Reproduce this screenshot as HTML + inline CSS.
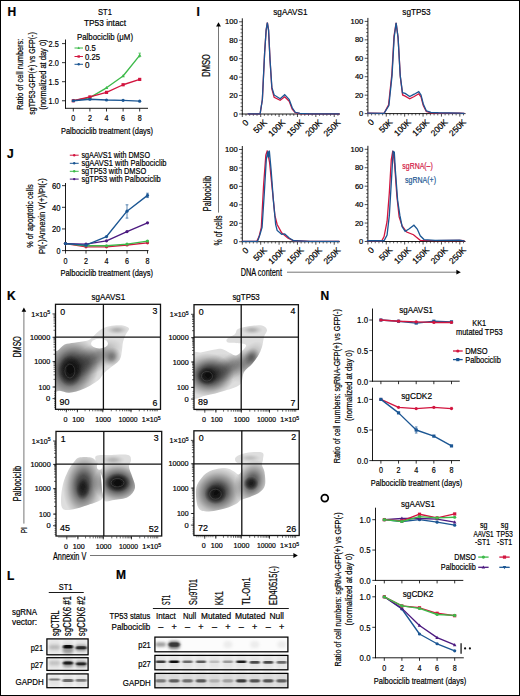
<!DOCTYPE html>
<html><head><meta charset="utf-8"><style>
html,body{margin:0;padding:0;background:#fff;width:520px;height:696px;overflow:hidden}
svg{display:block;font-family:"Liberation Sans", sans-serif}
text{stroke-width:0.2px}
</style></head><body>
<svg width="520" height="696" viewBox="0 0 520 696">
<rect x="0.5" y="0.5" width="519" height="695" fill="#fff" stroke="#000" stroke-width="1"/>
<text x="7.60" y="15.80" font-size="12.0" font-weight="bold" fill="#000" stroke="#000" stroke-width="0.3">H</text>
<text x="105.00" y="15.24" font-size="9.620000000000001" fill="#000" stroke="#000" text-anchor="middle" font-weight="normal" textLength="13.80" lengthAdjust="spacingAndGlyphs">ST1</text>
<text x="84.00" y="26.00" font-size="9.49" fill="#000" stroke="#000" font-weight="normal" textLength="42.00" lengthAdjust="spacingAndGlyphs">TP53 intact</text>
<text x="77.00" y="39.56" font-size="9.1" fill="#000" stroke="#000" font-weight="normal" textLength="56.00" lengthAdjust="spacingAndGlyphs">Palbociclib (μM)</text>
<line x1="65.50" y1="39.50" x2="65.50" y2="108.70" stroke="#000" stroke-width="0.9"/>
<line x1="65.10" y1="108.30" x2="148.00" y2="108.30" stroke="#000" stroke-width="0.9"/>
<line x1="62.00" y1="43.60" x2="65.50" y2="43.60" stroke="#000" stroke-width="0.8"/>
<text x="48.60" y="46.90" font-size="9.23" fill="#000" stroke="#000" font-weight="normal" textLength="10.20" lengthAdjust="spacingAndGlyphs">2.5</text>
<line x1="62.00" y1="62.65" x2="65.50" y2="62.65" stroke="#000" stroke-width="0.8"/>
<text x="48.60" y="65.95" font-size="9.23" fill="#000" stroke="#000" font-weight="normal" textLength="10.20" lengthAdjust="spacingAndGlyphs">2.0</text>
<line x1="62.00" y1="81.70" x2="65.50" y2="81.70" stroke="#000" stroke-width="0.8"/>
<text x="48.60" y="85.00" font-size="9.23" fill="#000" stroke="#000" font-weight="normal" textLength="10.20" lengthAdjust="spacingAndGlyphs">1.5</text>
<line x1="62.00" y1="100.75" x2="65.50" y2="100.75" stroke="#000" stroke-width="0.8"/>
<text x="48.60" y="104.05" font-size="9.23" fill="#000" stroke="#000" font-weight="normal" textLength="10.20" lengthAdjust="spacingAndGlyphs">1.0</text>
<line x1="73.30" y1="108.30" x2="73.30" y2="111.50" stroke="#000" stroke-width="0.8"/>
<text x="73.30" y="121.40" font-size="9.23" fill="#000" stroke="#000" text-anchor="middle" font-weight="normal" textLength="4.00" lengthAdjust="spacingAndGlyphs">0</text>
<line x1="89.90" y1="108.30" x2="89.90" y2="111.50" stroke="#000" stroke-width="0.8"/>
<text x="89.90" y="121.40" font-size="9.23" fill="#000" stroke="#000" text-anchor="middle" font-weight="normal" textLength="4.00" lengthAdjust="spacingAndGlyphs">2</text>
<line x1="106.50" y1="108.30" x2="106.50" y2="111.50" stroke="#000" stroke-width="0.8"/>
<text x="106.50" y="121.40" font-size="9.23" fill="#000" stroke="#000" text-anchor="middle" font-weight="normal" textLength="4.00" lengthAdjust="spacingAndGlyphs">4</text>
<line x1="123.10" y1="108.30" x2="123.10" y2="111.50" stroke="#000" stroke-width="0.8"/>
<text x="123.10" y="121.40" font-size="9.23" fill="#000" stroke="#000" text-anchor="middle" font-weight="normal" textLength="4.00" lengthAdjust="spacingAndGlyphs">6</text>
<line x1="139.70" y1="108.30" x2="139.70" y2="111.50" stroke="#000" stroke-width="0.8"/>
<text x="139.70" y="121.40" font-size="9.23" fill="#000" stroke="#000" text-anchor="middle" font-weight="normal" textLength="4.00" lengthAdjust="spacingAndGlyphs">8</text>
<text x="61.00" y="133.95" font-size="9.360000000000001" fill="#000" stroke="#000" font-weight="normal" textLength="92.00" lengthAdjust="spacingAndGlyphs">Palbociclib treatment (days)</text>
<text transform="translate(19.40,74.25) rotate(-90)" x="0" y="3.35" font-size="9.360000000000001" fill="#000" stroke="#000" text-anchor="middle" textLength="71.00" lengthAdjust="spacingAndGlyphs">Ratio of cell numbers:</text>
<text transform="translate(31.60,73.50) rotate(-90)" x="0" y="3.35" font-size="9.360000000000001" fill="#000" stroke="#000" text-anchor="middle" textLength="82.60" lengthAdjust="spacingAndGlyphs">sgTP53-GFP(+) vs GFP(-)</text>
<text transform="translate(42.20,74.60) rotate(-90)" x="0" y="3.35" font-size="9.360000000000001" fill="#000" stroke="#000" text-anchor="middle" textLength="70.40" lengthAdjust="spacingAndGlyphs">(normalized at day 0)</text>
<polyline points="73.30,100.75 89.90,97.70 106.50,87.80 123.10,75.98 139.70,55.41" fill="none" stroke="#3dba4a" stroke-width="1.35" stroke-linejoin="round"/>
<path d="M73.30,98.83 L75.06,102.03 L71.54,102.03Z" fill="#3dba4a"/>
<path d="M89.90,95.78 L91.66,98.98 L88.14,98.98Z" fill="#3dba4a"/>
<path d="M106.50,85.88 L108.26,89.08 L104.74,89.08Z" fill="#3dba4a"/>
<path d="M123.10,74.06 L124.86,77.27 L121.34,77.27Z" fill="#3dba4a"/>
<path d="M139.70,53.49 L141.46,56.69 L137.94,56.69Z" fill="#3dba4a"/>
<polyline points="73.30,100.75 89.90,96.94 106.50,92.37 123.10,84.75 139.70,79.41" fill="none" stroke="#d2153f" stroke-width="1.35" stroke-linejoin="round"/>
<rect x="71.70" y="99.15" width="3.20" height="3.20" fill="#d2153f"/>
<rect x="88.30" y="95.34" width="3.20" height="3.20" fill="#d2153f"/>
<rect x="104.90" y="90.77" width="3.20" height="3.20" fill="#d2153f"/>
<rect x="121.50" y="83.15" width="3.20" height="3.20" fill="#d2153f"/>
<rect x="138.10" y="77.81" width="3.20" height="3.20" fill="#d2153f"/>
<polyline points="73.30,100.75 89.90,99.23 106.50,99.99 123.10,100.37 139.70,101.13" fill="none" stroke="#1b5693" stroke-width="1.35" stroke-linejoin="round"/>
<circle cx="73.30" cy="100.75" r="1.60" fill="#1b5693"/>
<circle cx="89.90" cy="99.23" r="1.60" fill="#1b5693"/>
<circle cx="106.50" cy="99.99" r="1.60" fill="#1b5693"/>
<circle cx="123.10" cy="100.37" r="1.60" fill="#1b5693"/>
<circle cx="139.70" cy="101.13" r="1.60" fill="#1b5693"/>
<line x1="139.70" y1="53.12" x2="139.70" y2="57.70" stroke="#3dba4a" stroke-width="0.7"/>
<line x1="138.40" y1="53.12" x2="141.00" y2="53.12" stroke="#3dba4a" stroke-width="0.7"/>
<line x1="74.50" y1="48.00" x2="83.00" y2="48.00" stroke="#3dba4a" stroke-width="1.0"/>
<path d="M78.70,46.56 L80.02,48.96 L77.38,48.96Z" fill="#3dba4a"/>
<text x="85.00" y="51.30" font-size="9.23" fill="#000" stroke="#000" font-weight="normal" textLength="10.75" lengthAdjust="spacingAndGlyphs">0.5</text>
<line x1="74.50" y1="56.50" x2="83.00" y2="56.50" stroke="#d2153f" stroke-width="1.0"/>
<rect x="77.50" y="55.30" width="2.40" height="2.40" fill="#d2153f"/>
<text x="85.00" y="59.80" font-size="9.23" fill="#000" stroke="#000" font-weight="normal" textLength="15.00" lengthAdjust="spacingAndGlyphs">0.25</text>
<line x1="74.50" y1="64.30" x2="83.00" y2="64.30" stroke="#1b5693" stroke-width="1.0"/>
<circle cx="78.70" cy="64.30" r="1.20" fill="#1b5693"/>
<text x="85.00" y="67.60" font-size="9.23" fill="#000" stroke="#000" font-weight="normal" textLength="4.50" lengthAdjust="spacingAndGlyphs">0</text>
<text x="7.00" y="157.60" font-size="12.0" font-weight="bold" fill="#000" stroke="#000" stroke-width="0.3">J</text>
<line x1="65.50" y1="183.00" x2="65.50" y2="251.00" stroke="#000" stroke-width="0.9"/>
<line x1="65.10" y1="250.60" x2="148.50" y2="250.60" stroke="#000" stroke-width="0.9"/>
<line x1="62.00" y1="185.65" x2="65.50" y2="185.65" stroke="#000" stroke-width="0.8"/>
<text x="60.50" y="188.95" font-size="9.23" fill="#000" stroke="#000" text-anchor="end" textLength="8.60" lengthAdjust="spacingAndGlyphs">60</text>
<line x1="62.00" y1="207.30" x2="65.50" y2="207.30" stroke="#000" stroke-width="0.8"/>
<text x="60.50" y="210.60" font-size="9.23" fill="#000" stroke="#000" text-anchor="end" textLength="8.60" lengthAdjust="spacingAndGlyphs">40</text>
<line x1="62.00" y1="228.95" x2="65.50" y2="228.95" stroke="#000" stroke-width="0.8"/>
<text x="60.50" y="232.25" font-size="9.23" fill="#000" stroke="#000" text-anchor="end" textLength="8.60" lengthAdjust="spacingAndGlyphs">20</text>
<line x1="62.00" y1="250.60" x2="65.50" y2="250.60" stroke="#000" stroke-width="0.8"/>
<text x="60.50" y="253.90" font-size="9.23" fill="#000" stroke="#000" text-anchor="end" textLength="4.00" lengthAdjust="spacingAndGlyphs">0</text>
<line x1="65.50" y1="250.60" x2="65.50" y2="253.60" stroke="#000" stroke-width="0.8"/>
<text x="65.50" y="263.70" font-size="9.23" fill="#000" stroke="#000" text-anchor="middle" font-weight="normal" textLength="4.00" lengthAdjust="spacingAndGlyphs">0</text>
<line x1="86.00" y1="250.60" x2="86.00" y2="253.60" stroke="#000" stroke-width="0.8"/>
<text x="86.00" y="263.70" font-size="9.23" fill="#000" stroke="#000" text-anchor="middle" font-weight="normal" textLength="4.00" lengthAdjust="spacingAndGlyphs">2</text>
<line x1="106.50" y1="250.60" x2="106.50" y2="253.60" stroke="#000" stroke-width="0.8"/>
<text x="106.50" y="263.70" font-size="9.23" fill="#000" stroke="#000" text-anchor="middle" font-weight="normal" textLength="4.00" lengthAdjust="spacingAndGlyphs">4</text>
<line x1="127.00" y1="250.60" x2="127.00" y2="253.60" stroke="#000" stroke-width="0.8"/>
<text x="127.00" y="263.70" font-size="9.23" fill="#000" stroke="#000" text-anchor="middle" font-weight="normal" textLength="4.00" lengthAdjust="spacingAndGlyphs">6</text>
<line x1="147.50" y1="250.60" x2="147.50" y2="253.60" stroke="#000" stroke-width="0.8"/>
<text x="147.50" y="263.70" font-size="9.23" fill="#000" stroke="#000" text-anchor="middle" font-weight="normal" textLength="4.00" lengthAdjust="spacingAndGlyphs">8</text>
<text x="60.40" y="275.85" font-size="9.360000000000001" fill="#000" stroke="#000" font-weight="normal" textLength="92.60" lengthAdjust="spacingAndGlyphs">Palbociclib treatment (days)</text>
<text transform="translate(29.60,216.10) rotate(-90)" x="0" y="3.35" font-size="9.360000000000001" fill="#000" stroke="#000" text-anchor="middle" textLength="63.50" lengthAdjust="spacingAndGlyphs">% of apoptotic cells</text>
<text transform="translate(41.30,216.10) rotate(-90)" x="0" y="3.35" font-size="9.360000000000001" fill="#000" stroke="#000" text-anchor="middle" textLength="76.00" lengthAdjust="spacingAndGlyphs">PI(-)Annexin V(+)/PI(-)</text>
<polyline points="65.50,243.56 86.00,246.81 106.50,246.81 127.00,244.97 147.50,242.81" fill="none" stroke="#d2153f" stroke-width="1.35" stroke-linejoin="round"/>
<circle cx="65.50" cy="243.56" r="1.60" fill="#d2153f"/>
<circle cx="86.00" cy="246.81" r="1.60" fill="#d2153f"/>
<circle cx="106.50" cy="246.81" r="1.60" fill="#d2153f"/>
<circle cx="127.00" cy="244.97" r="1.60" fill="#d2153f"/>
<circle cx="147.50" cy="242.81" r="1.60" fill="#d2153f"/>
<polyline points="65.50,243.56 86.00,245.73 106.50,245.73 127.00,244.10 147.50,241.07" fill="none" stroke="#3dba4a" stroke-width="1.35" stroke-linejoin="round"/>
<circle cx="65.50" cy="243.56" r="1.60" fill="#3dba4a"/>
<circle cx="86.00" cy="245.73" r="1.60" fill="#3dba4a"/>
<circle cx="106.50" cy="245.73" r="1.60" fill="#3dba4a"/>
<circle cx="127.00" cy="244.10" r="1.60" fill="#3dba4a"/>
<circle cx="147.50" cy="241.07" r="1.60" fill="#3dba4a"/>
<polyline points="65.50,243.56 86.00,244.10 106.50,240.86 127.00,231.55 147.50,222.78" fill="none" stroke="#4c1a80" stroke-width="1.35" stroke-linejoin="round"/>
<circle cx="65.50" cy="243.56" r="1.60" fill="#4c1a80"/>
<circle cx="86.00" cy="244.10" r="1.60" fill="#4c1a80"/>
<circle cx="106.50" cy="240.86" r="1.60" fill="#4c1a80"/>
<circle cx="127.00" cy="231.55" r="1.60" fill="#4c1a80"/>
<circle cx="147.50" cy="222.78" r="1.60" fill="#4c1a80"/>
<polyline points="65.50,243.56 86.00,245.19 106.50,236.53 127.00,211.20 147.50,195.39" fill="none" stroke="#1b5693" stroke-width="1.35" stroke-linejoin="round"/>
<circle cx="65.50" cy="243.56" r="1.60" fill="#1b5693"/>
<circle cx="86.00" cy="245.19" r="1.60" fill="#1b5693"/>
<circle cx="106.50" cy="236.53" r="1.60" fill="#1b5693"/>
<circle cx="127.00" cy="211.20" r="1.60" fill="#1b5693"/>
<circle cx="147.50" cy="195.39" r="1.60" fill="#1b5693"/>
<line x1="127.00" y1="218.12" x2="127.00" y2="204.81" stroke="#1b5693" stroke-width="0.7"/>
<line x1="125.60" y1="218.12" x2="128.40" y2="218.12" stroke="#1b5693" stroke-width="0.7"/>
<line x1="125.60" y1="204.81" x2="128.40" y2="204.81" stroke="#1b5693" stroke-width="0.7"/>
<line x1="147.50" y1="197.56" x2="147.50" y2="193.23" stroke="#1b5693" stroke-width="0.7"/>
<line x1="146.10" y1="197.56" x2="148.90" y2="197.56" stroke="#1b5693" stroke-width="0.7"/>
<line x1="146.10" y1="193.23" x2="148.90" y2="193.23" stroke="#1b5693" stroke-width="0.7"/>
<line x1="69.80" y1="155.20" x2="78.70" y2="155.20" stroke="#d2153f" stroke-width="1.0"/>
<circle cx="74.20" cy="155.20" r="1.20" fill="#d2153f"/>
<text x="81.40" y="158.29" font-size="9.1" fill="#000" stroke="#000" font-weight="normal" textLength="68.60" lengthAdjust="spacingAndGlyphs">sgAAVS1 with DMSO</text>
<line x1="69.80" y1="163.30" x2="78.70" y2="163.30" stroke="#1b5693" stroke-width="1.0"/>
<circle cx="74.20" cy="163.30" r="1.20" fill="#1b5693"/>
<text x="81.40" y="166.39" font-size="9.1" fill="#000" stroke="#000" font-weight="normal" textLength="85.10" lengthAdjust="spacingAndGlyphs">sgAAVS1 with Palbociclib</text>
<line x1="69.80" y1="171.30" x2="78.70" y2="171.30" stroke="#3dba4a" stroke-width="1.0"/>
<circle cx="74.20" cy="171.30" r="1.20" fill="#3dba4a"/>
<text x="81.40" y="174.39" font-size="9.1" fill="#000" stroke="#000" font-weight="normal" textLength="64.80" lengthAdjust="spacingAndGlyphs">sgTP53 with DMSO</text>
<line x1="69.80" y1="179.10" x2="78.70" y2="179.10" stroke="#4c1a80" stroke-width="1.0"/>
<circle cx="74.20" cy="179.10" r="1.20" fill="#4c1a80"/>
<text x="81.40" y="182.19" font-size="9.1" fill="#000" stroke="#000" font-weight="normal" textLength="79.40" lengthAdjust="spacingAndGlyphs">sgTP53 with Palbociclib</text>
<text x="196.50" y="15.90" font-size="12.0" font-weight="bold" fill="#000" stroke="#000" stroke-width="0.3">I</text>
<text x="290.40" y="15.04" font-size="9.879999999999999" fill="#000" stroke="#000" text-anchor="middle" font-weight="normal" textLength="34.20" lengthAdjust="spacingAndGlyphs">sgAAVS1</text>
<text x="416.50" y="14.84" font-size="9.879999999999999" fill="#000" stroke="#000" text-anchor="middle" font-weight="normal" textLength="28.40" lengthAdjust="spacingAndGlyphs">sgTP53</text>
<line x1="242.30" y1="18.30" x2="242.30" y2="114.40" stroke="#000" stroke-width="0.9"/>
<line x1="239.10" y1="114.00" x2="242.30" y2="114.00" stroke="#000" stroke-width="0.7"/>
<line x1="240.50" y1="110.31" x2="242.30" y2="110.31" stroke="#000" stroke-width="0.6"/>
<line x1="240.50" y1="106.62" x2="242.30" y2="106.62" stroke="#000" stroke-width="0.6"/>
<line x1="240.50" y1="102.94" x2="242.30" y2="102.94" stroke="#000" stroke-width="0.6"/>
<line x1="240.50" y1="99.25" x2="242.30" y2="99.25" stroke="#000" stroke-width="0.6"/>
<line x1="239.10" y1="95.56" x2="242.30" y2="95.56" stroke="#000" stroke-width="0.7"/>
<line x1="240.50" y1="91.87" x2="242.30" y2="91.87" stroke="#000" stroke-width="0.6"/>
<line x1="240.50" y1="88.18" x2="242.30" y2="88.18" stroke="#000" stroke-width="0.6"/>
<line x1="240.50" y1="84.50" x2="242.30" y2="84.50" stroke="#000" stroke-width="0.6"/>
<line x1="240.50" y1="80.81" x2="242.30" y2="80.81" stroke="#000" stroke-width="0.6"/>
<line x1="239.10" y1="77.12" x2="242.30" y2="77.12" stroke="#000" stroke-width="0.7"/>
<line x1="240.50" y1="73.43" x2="242.30" y2="73.43" stroke="#000" stroke-width="0.6"/>
<line x1="240.50" y1="69.74" x2="242.30" y2="69.74" stroke="#000" stroke-width="0.6"/>
<line x1="240.50" y1="66.06" x2="242.30" y2="66.06" stroke="#000" stroke-width="0.6"/>
<line x1="240.50" y1="62.37" x2="242.30" y2="62.37" stroke="#000" stroke-width="0.6"/>
<line x1="239.10" y1="58.68" x2="242.30" y2="58.68" stroke="#000" stroke-width="0.7"/>
<line x1="240.50" y1="54.99" x2="242.30" y2="54.99" stroke="#000" stroke-width="0.6"/>
<line x1="240.50" y1="51.30" x2="242.30" y2="51.30" stroke="#000" stroke-width="0.6"/>
<line x1="240.50" y1="47.62" x2="242.30" y2="47.62" stroke="#000" stroke-width="0.6"/>
<line x1="240.50" y1="43.93" x2="242.30" y2="43.93" stroke="#000" stroke-width="0.6"/>
<line x1="239.10" y1="40.24" x2="242.30" y2="40.24" stroke="#000" stroke-width="0.7"/>
<line x1="240.50" y1="36.55" x2="242.30" y2="36.55" stroke="#000" stroke-width="0.6"/>
<line x1="240.50" y1="32.86" x2="242.30" y2="32.86" stroke="#000" stroke-width="0.6"/>
<line x1="240.50" y1="29.18" x2="242.30" y2="29.18" stroke="#000" stroke-width="0.6"/>
<line x1="240.50" y1="25.49" x2="242.30" y2="25.49" stroke="#000" stroke-width="0.6"/>
<line x1="239.10" y1="21.80" x2="242.30" y2="21.80" stroke="#000" stroke-width="0.7"/>
<text x="237.70" y="116.65" font-size="7.41" fill="#000" stroke="#000" text-anchor="end" textLength="4.20" lengthAdjust="spacingAndGlyphs">0</text>
<text x="237.70" y="98.21" font-size="7.41" fill="#000" stroke="#000" text-anchor="end" textLength="8.40" lengthAdjust="spacingAndGlyphs">20</text>
<text x="237.70" y="79.77" font-size="7.41" fill="#000" stroke="#000" text-anchor="end" textLength="8.40" lengthAdjust="spacingAndGlyphs">40</text>
<text x="237.70" y="61.33" font-size="7.41" fill="#000" stroke="#000" text-anchor="end" textLength="8.40" lengthAdjust="spacingAndGlyphs">60</text>
<text x="237.70" y="42.89" font-size="7.41" fill="#000" stroke="#000" text-anchor="end" textLength="8.40" lengthAdjust="spacingAndGlyphs">80</text>
<text x="237.70" y="24.45" font-size="7.41" fill="#000" stroke="#000" text-anchor="end" textLength="12.70" lengthAdjust="spacingAndGlyphs">100</text>
<line x1="241.90" y1="114.00" x2="339.90" y2="114.00" stroke="#000" stroke-width="0.9"/>
<line x1="242.30" y1="114.00" x2="242.30" y2="117.00" stroke="#000" stroke-width="0.7"/>
<line x1="245.98" y1="114.00" x2="245.98" y2="115.80" stroke="#000" stroke-width="0.6"/>
<line x1="249.65" y1="114.00" x2="249.65" y2="115.80" stroke="#000" stroke-width="0.6"/>
<line x1="253.33" y1="114.00" x2="253.33" y2="115.80" stroke="#000" stroke-width="0.6"/>
<line x1="257.01" y1="114.00" x2="257.01" y2="115.80" stroke="#000" stroke-width="0.6"/>
<line x1="260.69" y1="114.00" x2="260.69" y2="117.00" stroke="#000" stroke-width="0.7"/>
<line x1="264.36" y1="114.00" x2="264.36" y2="115.80" stroke="#000" stroke-width="0.6"/>
<line x1="268.04" y1="114.00" x2="268.04" y2="115.80" stroke="#000" stroke-width="0.6"/>
<line x1="271.72" y1="114.00" x2="271.72" y2="115.80" stroke="#000" stroke-width="0.6"/>
<line x1="275.39" y1="114.00" x2="275.39" y2="115.80" stroke="#000" stroke-width="0.6"/>
<line x1="279.07" y1="114.00" x2="279.07" y2="117.00" stroke="#000" stroke-width="0.7"/>
<line x1="282.75" y1="114.00" x2="282.75" y2="115.80" stroke="#000" stroke-width="0.6"/>
<line x1="286.42" y1="114.00" x2="286.42" y2="115.80" stroke="#000" stroke-width="0.6"/>
<line x1="290.10" y1="114.00" x2="290.10" y2="115.80" stroke="#000" stroke-width="0.6"/>
<line x1="293.78" y1="114.00" x2="293.78" y2="115.80" stroke="#000" stroke-width="0.6"/>
<line x1="297.46" y1="114.00" x2="297.46" y2="117.00" stroke="#000" stroke-width="0.7"/>
<line x1="301.13" y1="114.00" x2="301.13" y2="115.80" stroke="#000" stroke-width="0.6"/>
<line x1="304.81" y1="114.00" x2="304.81" y2="115.80" stroke="#000" stroke-width="0.6"/>
<line x1="308.49" y1="114.00" x2="308.49" y2="115.80" stroke="#000" stroke-width="0.6"/>
<line x1="312.16" y1="114.00" x2="312.16" y2="115.80" stroke="#000" stroke-width="0.6"/>
<line x1="315.84" y1="114.00" x2="315.84" y2="117.00" stroke="#000" stroke-width="0.7"/>
<line x1="319.52" y1="114.00" x2="319.52" y2="115.80" stroke="#000" stroke-width="0.6"/>
<line x1="323.19" y1="114.00" x2="323.19" y2="115.80" stroke="#000" stroke-width="0.6"/>
<line x1="326.87" y1="114.00" x2="326.87" y2="115.80" stroke="#000" stroke-width="0.6"/>
<line x1="330.55" y1="114.00" x2="330.55" y2="115.80" stroke="#000" stroke-width="0.6"/>
<line x1="334.23" y1="114.00" x2="334.23" y2="117.00" stroke="#000" stroke-width="0.7"/>
<line x1="337.90" y1="114.00" x2="337.90" y2="115.80" stroke="#000" stroke-width="0.6"/>
<text transform="translate(244.50,118.60) rotate(-45)" x="0" y="0" font-size="8.45" text-anchor="end" dominant-baseline="hanging" stroke="#000">0</text>
<text transform="translate(262.88,118.60) rotate(-45)" x="0" y="0" font-size="8.45" text-anchor="end" dominant-baseline="hanging" stroke="#000">50K</text>
<text transform="translate(281.27,118.60) rotate(-45)" x="0" y="0" font-size="8.45" text-anchor="end" dominant-baseline="hanging" stroke="#000">100K</text>
<text transform="translate(299.66,118.60) rotate(-45)" x="0" y="0" font-size="8.45" text-anchor="end" dominant-baseline="hanging" stroke="#000">150K</text>
<text transform="translate(318.04,118.60) rotate(-45)" x="0" y="0" font-size="8.45" text-anchor="end" dominant-baseline="hanging" stroke="#000">200K</text>
<text transform="translate(336.43,118.60) rotate(-45)" x="0" y="0" font-size="8.45" text-anchor="end" dominant-baseline="hanging" stroke="#000">250K</text>
<line x1="367.90" y1="17.90" x2="367.90" y2="114.00" stroke="#000" stroke-width="0.9"/>
<line x1="364.70" y1="113.60" x2="367.90" y2="113.60" stroke="#000" stroke-width="0.7"/>
<line x1="366.10" y1="109.91" x2="367.90" y2="109.91" stroke="#000" stroke-width="0.6"/>
<line x1="366.10" y1="106.22" x2="367.90" y2="106.22" stroke="#000" stroke-width="0.6"/>
<line x1="366.10" y1="102.54" x2="367.90" y2="102.54" stroke="#000" stroke-width="0.6"/>
<line x1="366.10" y1="98.85" x2="367.90" y2="98.85" stroke="#000" stroke-width="0.6"/>
<line x1="364.70" y1="95.16" x2="367.90" y2="95.16" stroke="#000" stroke-width="0.7"/>
<line x1="366.10" y1="91.47" x2="367.90" y2="91.47" stroke="#000" stroke-width="0.6"/>
<line x1="366.10" y1="87.78" x2="367.90" y2="87.78" stroke="#000" stroke-width="0.6"/>
<line x1="366.10" y1="84.10" x2="367.90" y2="84.10" stroke="#000" stroke-width="0.6"/>
<line x1="366.10" y1="80.41" x2="367.90" y2="80.41" stroke="#000" stroke-width="0.6"/>
<line x1="364.70" y1="76.72" x2="367.90" y2="76.72" stroke="#000" stroke-width="0.7"/>
<line x1="366.10" y1="73.03" x2="367.90" y2="73.03" stroke="#000" stroke-width="0.6"/>
<line x1="366.10" y1="69.34" x2="367.90" y2="69.34" stroke="#000" stroke-width="0.6"/>
<line x1="366.10" y1="65.66" x2="367.90" y2="65.66" stroke="#000" stroke-width="0.6"/>
<line x1="366.10" y1="61.97" x2="367.90" y2="61.97" stroke="#000" stroke-width="0.6"/>
<line x1="364.70" y1="58.28" x2="367.90" y2="58.28" stroke="#000" stroke-width="0.7"/>
<line x1="366.10" y1="54.59" x2="367.90" y2="54.59" stroke="#000" stroke-width="0.6"/>
<line x1="366.10" y1="50.90" x2="367.90" y2="50.90" stroke="#000" stroke-width="0.6"/>
<line x1="366.10" y1="47.22" x2="367.90" y2="47.22" stroke="#000" stroke-width="0.6"/>
<line x1="366.10" y1="43.53" x2="367.90" y2="43.53" stroke="#000" stroke-width="0.6"/>
<line x1="364.70" y1="39.84" x2="367.90" y2="39.84" stroke="#000" stroke-width="0.7"/>
<line x1="366.10" y1="36.15" x2="367.90" y2="36.15" stroke="#000" stroke-width="0.6"/>
<line x1="366.10" y1="32.46" x2="367.90" y2="32.46" stroke="#000" stroke-width="0.6"/>
<line x1="366.10" y1="28.78" x2="367.90" y2="28.78" stroke="#000" stroke-width="0.6"/>
<line x1="366.10" y1="25.09" x2="367.90" y2="25.09" stroke="#000" stroke-width="0.6"/>
<line x1="364.70" y1="21.40" x2="367.90" y2="21.40" stroke="#000" stroke-width="0.7"/>
<text x="363.30" y="116.25" font-size="7.41" fill="#000" stroke="#000" text-anchor="end" textLength="4.20" lengthAdjust="spacingAndGlyphs">0</text>
<text x="363.30" y="97.81" font-size="7.41" fill="#000" stroke="#000" text-anchor="end" textLength="8.40" lengthAdjust="spacingAndGlyphs">20</text>
<text x="363.30" y="79.37" font-size="7.41" fill="#000" stroke="#000" text-anchor="end" textLength="8.40" lengthAdjust="spacingAndGlyphs">40</text>
<text x="363.30" y="60.93" font-size="7.41" fill="#000" stroke="#000" text-anchor="end" textLength="8.40" lengthAdjust="spacingAndGlyphs">60</text>
<text x="363.30" y="42.49" font-size="7.41" fill="#000" stroke="#000" text-anchor="end" textLength="8.40" lengthAdjust="spacingAndGlyphs">80</text>
<text x="363.30" y="24.05" font-size="7.41" fill="#000" stroke="#000" text-anchor="end" textLength="12.70" lengthAdjust="spacingAndGlyphs">100</text>
<line x1="367.50" y1="113.60" x2="465.50" y2="113.60" stroke="#000" stroke-width="0.9"/>
<line x1="367.90" y1="113.60" x2="367.90" y2="116.60" stroke="#000" stroke-width="0.7"/>
<line x1="371.58" y1="113.60" x2="371.58" y2="115.40" stroke="#000" stroke-width="0.6"/>
<line x1="375.25" y1="113.60" x2="375.25" y2="115.40" stroke="#000" stroke-width="0.6"/>
<line x1="378.93" y1="113.60" x2="378.93" y2="115.40" stroke="#000" stroke-width="0.6"/>
<line x1="382.61" y1="113.60" x2="382.61" y2="115.40" stroke="#000" stroke-width="0.6"/>
<line x1="386.28" y1="113.60" x2="386.28" y2="116.60" stroke="#000" stroke-width="0.7"/>
<line x1="389.96" y1="113.60" x2="389.96" y2="115.40" stroke="#000" stroke-width="0.6"/>
<line x1="393.64" y1="113.60" x2="393.64" y2="115.40" stroke="#000" stroke-width="0.6"/>
<line x1="397.32" y1="113.60" x2="397.32" y2="115.40" stroke="#000" stroke-width="0.6"/>
<line x1="400.99" y1="113.60" x2="400.99" y2="115.40" stroke="#000" stroke-width="0.6"/>
<line x1="404.67" y1="113.60" x2="404.67" y2="116.60" stroke="#000" stroke-width="0.7"/>
<line x1="408.35" y1="113.60" x2="408.35" y2="115.40" stroke="#000" stroke-width="0.6"/>
<line x1="412.02" y1="113.60" x2="412.02" y2="115.40" stroke="#000" stroke-width="0.6"/>
<line x1="415.70" y1="113.60" x2="415.70" y2="115.40" stroke="#000" stroke-width="0.6"/>
<line x1="419.38" y1="113.60" x2="419.38" y2="115.40" stroke="#000" stroke-width="0.6"/>
<line x1="423.05" y1="113.60" x2="423.05" y2="116.60" stroke="#000" stroke-width="0.7"/>
<line x1="426.73" y1="113.60" x2="426.73" y2="115.40" stroke="#000" stroke-width="0.6"/>
<line x1="430.41" y1="113.60" x2="430.41" y2="115.40" stroke="#000" stroke-width="0.6"/>
<line x1="434.09" y1="113.60" x2="434.09" y2="115.40" stroke="#000" stroke-width="0.6"/>
<line x1="437.76" y1="113.60" x2="437.76" y2="115.40" stroke="#000" stroke-width="0.6"/>
<line x1="441.44" y1="113.60" x2="441.44" y2="116.60" stroke="#000" stroke-width="0.7"/>
<line x1="445.12" y1="113.60" x2="445.12" y2="115.40" stroke="#000" stroke-width="0.6"/>
<line x1="448.79" y1="113.60" x2="448.79" y2="115.40" stroke="#000" stroke-width="0.6"/>
<line x1="452.47" y1="113.60" x2="452.47" y2="115.40" stroke="#000" stroke-width="0.6"/>
<line x1="456.15" y1="113.60" x2="456.15" y2="115.40" stroke="#000" stroke-width="0.6"/>
<line x1="459.82" y1="113.60" x2="459.82" y2="116.60" stroke="#000" stroke-width="0.7"/>
<line x1="463.50" y1="113.60" x2="463.50" y2="115.40" stroke="#000" stroke-width="0.6"/>
<text transform="translate(370.10,118.20) rotate(-45)" x="0" y="0" font-size="8.45" text-anchor="end" dominant-baseline="hanging" stroke="#000">0</text>
<text transform="translate(388.48,118.20) rotate(-45)" x="0" y="0" font-size="8.45" text-anchor="end" dominant-baseline="hanging" stroke="#000">50K</text>
<text transform="translate(406.87,118.20) rotate(-45)" x="0" y="0" font-size="8.45" text-anchor="end" dominant-baseline="hanging" stroke="#000">100K</text>
<text transform="translate(425.25,118.20) rotate(-45)" x="0" y="0" font-size="8.45" text-anchor="end" dominant-baseline="hanging" stroke="#000">150K</text>
<text transform="translate(443.64,118.20) rotate(-45)" x="0" y="0" font-size="8.45" text-anchor="end" dominant-baseline="hanging" stroke="#000">200K</text>
<text transform="translate(462.02,118.20) rotate(-45)" x="0" y="0" font-size="8.45" text-anchor="end" dominant-baseline="hanging" stroke="#000">250K</text>
<line x1="242.30" y1="146.00" x2="242.30" y2="242.10" stroke="#000" stroke-width="0.9"/>
<line x1="239.10" y1="241.70" x2="242.30" y2="241.70" stroke="#000" stroke-width="0.7"/>
<line x1="240.50" y1="238.01" x2="242.30" y2="238.01" stroke="#000" stroke-width="0.6"/>
<line x1="240.50" y1="234.32" x2="242.30" y2="234.32" stroke="#000" stroke-width="0.6"/>
<line x1="240.50" y1="230.64" x2="242.30" y2="230.64" stroke="#000" stroke-width="0.6"/>
<line x1="240.50" y1="226.95" x2="242.30" y2="226.95" stroke="#000" stroke-width="0.6"/>
<line x1="239.10" y1="223.26" x2="242.30" y2="223.26" stroke="#000" stroke-width="0.7"/>
<line x1="240.50" y1="219.57" x2="242.30" y2="219.57" stroke="#000" stroke-width="0.6"/>
<line x1="240.50" y1="215.88" x2="242.30" y2="215.88" stroke="#000" stroke-width="0.6"/>
<line x1="240.50" y1="212.20" x2="242.30" y2="212.20" stroke="#000" stroke-width="0.6"/>
<line x1="240.50" y1="208.51" x2="242.30" y2="208.51" stroke="#000" stroke-width="0.6"/>
<line x1="239.10" y1="204.82" x2="242.30" y2="204.82" stroke="#000" stroke-width="0.7"/>
<line x1="240.50" y1="201.13" x2="242.30" y2="201.13" stroke="#000" stroke-width="0.6"/>
<line x1="240.50" y1="197.44" x2="242.30" y2="197.44" stroke="#000" stroke-width="0.6"/>
<line x1="240.50" y1="193.76" x2="242.30" y2="193.76" stroke="#000" stroke-width="0.6"/>
<line x1="240.50" y1="190.07" x2="242.30" y2="190.07" stroke="#000" stroke-width="0.6"/>
<line x1="239.10" y1="186.38" x2="242.30" y2="186.38" stroke="#000" stroke-width="0.7"/>
<line x1="240.50" y1="182.69" x2="242.30" y2="182.69" stroke="#000" stroke-width="0.6"/>
<line x1="240.50" y1="179.00" x2="242.30" y2="179.00" stroke="#000" stroke-width="0.6"/>
<line x1="240.50" y1="175.32" x2="242.30" y2="175.32" stroke="#000" stroke-width="0.6"/>
<line x1="240.50" y1="171.63" x2="242.30" y2="171.63" stroke="#000" stroke-width="0.6"/>
<line x1="239.10" y1="167.94" x2="242.30" y2="167.94" stroke="#000" stroke-width="0.7"/>
<line x1="240.50" y1="164.25" x2="242.30" y2="164.25" stroke="#000" stroke-width="0.6"/>
<line x1="240.50" y1="160.56" x2="242.30" y2="160.56" stroke="#000" stroke-width="0.6"/>
<line x1="240.50" y1="156.88" x2="242.30" y2="156.88" stroke="#000" stroke-width="0.6"/>
<line x1="240.50" y1="153.19" x2="242.30" y2="153.19" stroke="#000" stroke-width="0.6"/>
<line x1="239.10" y1="149.50" x2="242.30" y2="149.50" stroke="#000" stroke-width="0.7"/>
<text x="237.70" y="244.35" font-size="7.41" fill="#000" stroke="#000" text-anchor="end" textLength="4.20" lengthAdjust="spacingAndGlyphs">0</text>
<text x="237.70" y="225.91" font-size="7.41" fill="#000" stroke="#000" text-anchor="end" textLength="8.40" lengthAdjust="spacingAndGlyphs">20</text>
<text x="237.70" y="207.47" font-size="7.41" fill="#000" stroke="#000" text-anchor="end" textLength="8.40" lengthAdjust="spacingAndGlyphs">40</text>
<text x="237.70" y="189.03" font-size="7.41" fill="#000" stroke="#000" text-anchor="end" textLength="8.40" lengthAdjust="spacingAndGlyphs">60</text>
<text x="237.70" y="170.59" font-size="7.41" fill="#000" stroke="#000" text-anchor="end" textLength="8.40" lengthAdjust="spacingAndGlyphs">80</text>
<text x="237.70" y="152.15" font-size="7.41" fill="#000" stroke="#000" text-anchor="end" textLength="12.70" lengthAdjust="spacingAndGlyphs">100</text>
<line x1="241.90" y1="241.70" x2="339.90" y2="241.70" stroke="#000" stroke-width="0.9"/>
<line x1="242.30" y1="241.70" x2="242.30" y2="244.70" stroke="#000" stroke-width="0.7"/>
<line x1="245.98" y1="241.70" x2="245.98" y2="243.50" stroke="#000" stroke-width="0.6"/>
<line x1="249.65" y1="241.70" x2="249.65" y2="243.50" stroke="#000" stroke-width="0.6"/>
<line x1="253.33" y1="241.70" x2="253.33" y2="243.50" stroke="#000" stroke-width="0.6"/>
<line x1="257.01" y1="241.70" x2="257.01" y2="243.50" stroke="#000" stroke-width="0.6"/>
<line x1="260.69" y1="241.70" x2="260.69" y2="244.70" stroke="#000" stroke-width="0.7"/>
<line x1="264.36" y1="241.70" x2="264.36" y2="243.50" stroke="#000" stroke-width="0.6"/>
<line x1="268.04" y1="241.70" x2="268.04" y2="243.50" stroke="#000" stroke-width="0.6"/>
<line x1="271.72" y1="241.70" x2="271.72" y2="243.50" stroke="#000" stroke-width="0.6"/>
<line x1="275.39" y1="241.70" x2="275.39" y2="243.50" stroke="#000" stroke-width="0.6"/>
<line x1="279.07" y1="241.70" x2="279.07" y2="244.70" stroke="#000" stroke-width="0.7"/>
<line x1="282.75" y1="241.70" x2="282.75" y2="243.50" stroke="#000" stroke-width="0.6"/>
<line x1="286.42" y1="241.70" x2="286.42" y2="243.50" stroke="#000" stroke-width="0.6"/>
<line x1="290.10" y1="241.70" x2="290.10" y2="243.50" stroke="#000" stroke-width="0.6"/>
<line x1="293.78" y1="241.70" x2="293.78" y2="243.50" stroke="#000" stroke-width="0.6"/>
<line x1="297.46" y1="241.70" x2="297.46" y2="244.70" stroke="#000" stroke-width="0.7"/>
<line x1="301.13" y1="241.70" x2="301.13" y2="243.50" stroke="#000" stroke-width="0.6"/>
<line x1="304.81" y1="241.70" x2="304.81" y2="243.50" stroke="#000" stroke-width="0.6"/>
<line x1="308.49" y1="241.70" x2="308.49" y2="243.50" stroke="#000" stroke-width="0.6"/>
<line x1="312.16" y1="241.70" x2="312.16" y2="243.50" stroke="#000" stroke-width="0.6"/>
<line x1="315.84" y1="241.70" x2="315.84" y2="244.70" stroke="#000" stroke-width="0.7"/>
<line x1="319.52" y1="241.70" x2="319.52" y2="243.50" stroke="#000" stroke-width="0.6"/>
<line x1="323.19" y1="241.70" x2="323.19" y2="243.50" stroke="#000" stroke-width="0.6"/>
<line x1="326.87" y1="241.70" x2="326.87" y2="243.50" stroke="#000" stroke-width="0.6"/>
<line x1="330.55" y1="241.70" x2="330.55" y2="243.50" stroke="#000" stroke-width="0.6"/>
<line x1="334.23" y1="241.70" x2="334.23" y2="244.70" stroke="#000" stroke-width="0.7"/>
<line x1="337.90" y1="241.70" x2="337.90" y2="243.50" stroke="#000" stroke-width="0.6"/>
<text transform="translate(244.50,246.30) rotate(-45)" x="0" y="0" font-size="8.45" text-anchor="end" dominant-baseline="hanging" stroke="#000">0</text>
<text transform="translate(262.88,246.30) rotate(-45)" x="0" y="0" font-size="8.45" text-anchor="end" dominant-baseline="hanging" stroke="#000">50K</text>
<text transform="translate(281.27,246.30) rotate(-45)" x="0" y="0" font-size="8.45" text-anchor="end" dominant-baseline="hanging" stroke="#000">100K</text>
<text transform="translate(299.66,246.30) rotate(-45)" x="0" y="0" font-size="8.45" text-anchor="end" dominant-baseline="hanging" stroke="#000">150K</text>
<text transform="translate(318.04,246.30) rotate(-45)" x="0" y="0" font-size="8.45" text-anchor="end" dominant-baseline="hanging" stroke="#000">200K</text>
<text transform="translate(336.43,246.30) rotate(-45)" x="0" y="0" font-size="8.45" text-anchor="end" dominant-baseline="hanging" stroke="#000">250K</text>
<line x1="367.90" y1="145.80" x2="367.90" y2="241.90" stroke="#000" stroke-width="0.9"/>
<line x1="364.70" y1="241.50" x2="367.90" y2="241.50" stroke="#000" stroke-width="0.7"/>
<line x1="366.10" y1="237.81" x2="367.90" y2="237.81" stroke="#000" stroke-width="0.6"/>
<line x1="366.10" y1="234.12" x2="367.90" y2="234.12" stroke="#000" stroke-width="0.6"/>
<line x1="366.10" y1="230.44" x2="367.90" y2="230.44" stroke="#000" stroke-width="0.6"/>
<line x1="366.10" y1="226.75" x2="367.90" y2="226.75" stroke="#000" stroke-width="0.6"/>
<line x1="364.70" y1="223.06" x2="367.90" y2="223.06" stroke="#000" stroke-width="0.7"/>
<line x1="366.10" y1="219.37" x2="367.90" y2="219.37" stroke="#000" stroke-width="0.6"/>
<line x1="366.10" y1="215.68" x2="367.90" y2="215.68" stroke="#000" stroke-width="0.6"/>
<line x1="366.10" y1="212.00" x2="367.90" y2="212.00" stroke="#000" stroke-width="0.6"/>
<line x1="366.10" y1="208.31" x2="367.90" y2="208.31" stroke="#000" stroke-width="0.6"/>
<line x1="364.70" y1="204.62" x2="367.90" y2="204.62" stroke="#000" stroke-width="0.7"/>
<line x1="366.10" y1="200.93" x2="367.90" y2="200.93" stroke="#000" stroke-width="0.6"/>
<line x1="366.10" y1="197.24" x2="367.90" y2="197.24" stroke="#000" stroke-width="0.6"/>
<line x1="366.10" y1="193.56" x2="367.90" y2="193.56" stroke="#000" stroke-width="0.6"/>
<line x1="366.10" y1="189.87" x2="367.90" y2="189.87" stroke="#000" stroke-width="0.6"/>
<line x1="364.70" y1="186.18" x2="367.90" y2="186.18" stroke="#000" stroke-width="0.7"/>
<line x1="366.10" y1="182.49" x2="367.90" y2="182.49" stroke="#000" stroke-width="0.6"/>
<line x1="366.10" y1="178.80" x2="367.90" y2="178.80" stroke="#000" stroke-width="0.6"/>
<line x1="366.10" y1="175.12" x2="367.90" y2="175.12" stroke="#000" stroke-width="0.6"/>
<line x1="366.10" y1="171.43" x2="367.90" y2="171.43" stroke="#000" stroke-width="0.6"/>
<line x1="364.70" y1="167.74" x2="367.90" y2="167.74" stroke="#000" stroke-width="0.7"/>
<line x1="366.10" y1="164.05" x2="367.90" y2="164.05" stroke="#000" stroke-width="0.6"/>
<line x1="366.10" y1="160.36" x2="367.90" y2="160.36" stroke="#000" stroke-width="0.6"/>
<line x1="366.10" y1="156.68" x2="367.90" y2="156.68" stroke="#000" stroke-width="0.6"/>
<line x1="366.10" y1="152.99" x2="367.90" y2="152.99" stroke="#000" stroke-width="0.6"/>
<line x1="364.70" y1="149.30" x2="367.90" y2="149.30" stroke="#000" stroke-width="0.7"/>
<text x="363.30" y="244.15" font-size="7.41" fill="#000" stroke="#000" text-anchor="end" textLength="4.20" lengthAdjust="spacingAndGlyphs">0</text>
<text x="363.30" y="225.71" font-size="7.41" fill="#000" stroke="#000" text-anchor="end" textLength="8.40" lengthAdjust="spacingAndGlyphs">20</text>
<text x="363.30" y="207.27" font-size="7.41" fill="#000" stroke="#000" text-anchor="end" textLength="8.40" lengthAdjust="spacingAndGlyphs">40</text>
<text x="363.30" y="188.83" font-size="7.41" fill="#000" stroke="#000" text-anchor="end" textLength="8.40" lengthAdjust="spacingAndGlyphs">60</text>
<text x="363.30" y="170.39" font-size="7.41" fill="#000" stroke="#000" text-anchor="end" textLength="8.40" lengthAdjust="spacingAndGlyphs">80</text>
<text x="363.30" y="151.95" font-size="7.41" fill="#000" stroke="#000" text-anchor="end" textLength="12.70" lengthAdjust="spacingAndGlyphs">100</text>
<line x1="367.50" y1="241.50" x2="465.50" y2="241.50" stroke="#000" stroke-width="0.9"/>
<line x1="367.90" y1="241.50" x2="367.90" y2="244.50" stroke="#000" stroke-width="0.7"/>
<line x1="371.58" y1="241.50" x2="371.58" y2="243.30" stroke="#000" stroke-width="0.6"/>
<line x1="375.25" y1="241.50" x2="375.25" y2="243.30" stroke="#000" stroke-width="0.6"/>
<line x1="378.93" y1="241.50" x2="378.93" y2="243.30" stroke="#000" stroke-width="0.6"/>
<line x1="382.61" y1="241.50" x2="382.61" y2="243.30" stroke="#000" stroke-width="0.6"/>
<line x1="386.28" y1="241.50" x2="386.28" y2="244.50" stroke="#000" stroke-width="0.7"/>
<line x1="389.96" y1="241.50" x2="389.96" y2="243.30" stroke="#000" stroke-width="0.6"/>
<line x1="393.64" y1="241.50" x2="393.64" y2="243.30" stroke="#000" stroke-width="0.6"/>
<line x1="397.32" y1="241.50" x2="397.32" y2="243.30" stroke="#000" stroke-width="0.6"/>
<line x1="400.99" y1="241.50" x2="400.99" y2="243.30" stroke="#000" stroke-width="0.6"/>
<line x1="404.67" y1="241.50" x2="404.67" y2="244.50" stroke="#000" stroke-width="0.7"/>
<line x1="408.35" y1="241.50" x2="408.35" y2="243.30" stroke="#000" stroke-width="0.6"/>
<line x1="412.02" y1="241.50" x2="412.02" y2="243.30" stroke="#000" stroke-width="0.6"/>
<line x1="415.70" y1="241.50" x2="415.70" y2="243.30" stroke="#000" stroke-width="0.6"/>
<line x1="419.38" y1="241.50" x2="419.38" y2="243.30" stroke="#000" stroke-width="0.6"/>
<line x1="423.05" y1="241.50" x2="423.05" y2="244.50" stroke="#000" stroke-width="0.7"/>
<line x1="426.73" y1="241.50" x2="426.73" y2="243.30" stroke="#000" stroke-width="0.6"/>
<line x1="430.41" y1="241.50" x2="430.41" y2="243.30" stroke="#000" stroke-width="0.6"/>
<line x1="434.09" y1="241.50" x2="434.09" y2="243.30" stroke="#000" stroke-width="0.6"/>
<line x1="437.76" y1="241.50" x2="437.76" y2="243.30" stroke="#000" stroke-width="0.6"/>
<line x1="441.44" y1="241.50" x2="441.44" y2="244.50" stroke="#000" stroke-width="0.7"/>
<line x1="445.12" y1="241.50" x2="445.12" y2="243.30" stroke="#000" stroke-width="0.6"/>
<line x1="448.79" y1="241.50" x2="448.79" y2="243.30" stroke="#000" stroke-width="0.6"/>
<line x1="452.47" y1="241.50" x2="452.47" y2="243.30" stroke="#000" stroke-width="0.6"/>
<line x1="456.15" y1="241.50" x2="456.15" y2="243.30" stroke="#000" stroke-width="0.6"/>
<line x1="459.82" y1="241.50" x2="459.82" y2="244.50" stroke="#000" stroke-width="0.7"/>
<line x1="463.50" y1="241.50" x2="463.50" y2="243.30" stroke="#000" stroke-width="0.6"/>
<text transform="translate(370.10,246.10) rotate(-45)" x="0" y="0" font-size="8.45" text-anchor="end" dominant-baseline="hanging" stroke="#000">0</text>
<text transform="translate(388.48,246.10) rotate(-45)" x="0" y="0" font-size="8.45" text-anchor="end" dominant-baseline="hanging" stroke="#000">50K</text>
<text transform="translate(406.87,246.10) rotate(-45)" x="0" y="0" font-size="8.45" text-anchor="end" dominant-baseline="hanging" stroke="#000">100K</text>
<text transform="translate(425.25,246.10) rotate(-45)" x="0" y="0" font-size="8.45" text-anchor="end" dominant-baseline="hanging" stroke="#000">150K</text>
<text transform="translate(443.64,246.10) rotate(-45)" x="0" y="0" font-size="8.45" text-anchor="end" dominant-baseline="hanging" stroke="#000">200K</text>
<text transform="translate(462.02,246.10) rotate(-45)" x="0" y="0" font-size="8.45" text-anchor="end" dominant-baseline="hanging" stroke="#000">250K</text>
<path d="M248.19,113.81 L260.11,113.81 L262.37,99.48 L264.63,52.71 L266.14,30.09 L267.35,22.54 L268.55,30.09 L270.06,60.26 L271.87,88.92 L274.14,97.21 L280.17,100.23 L284.70,96.76 L289.22,101.29 L292.24,109.28 L295.26,112.75 L299.78,113.51 L310.04,113.81 L339.00,113.96" fill="none" stroke="#d2153f" stroke-width="1.3" stroke-linejoin="miter" stroke-miterlimit="3" stroke-linecap="round"/>
<path d="M248.19,113.81 L260.11,113.81 L262.37,99.48 L264.63,52.71 L266.14,30.09 L267.35,22.54 L268.55,30.09 L270.06,60.26 L271.87,87.41 L274.14,94.95 L280.17,98.72 L284.70,94.65 L289.22,99.48 L292.24,107.77 L295.26,112.30 L299.78,113.36 L310.04,113.81 L339.00,113.96" fill="none" stroke="#1b5693" stroke-width="1.3" stroke-linejoin="miter" stroke-miterlimit="3" stroke-linecap="round"/>
<path d="M367.46,113.05 L384.05,113.36 L388.58,104.76 L391.90,73.83 L394.01,36.12 L396.12,22.84 L398.08,37.63 L400.34,76.85 L402.61,94.95 L405.17,96.16 L409.70,98.72 L414.22,96.46 L418.75,93.74 L421.01,96.76 L423.27,105.51 L426.29,111.55 L430.82,112.75 L438.36,113.05 L459.48,113.20 L464.00,113.36" fill="none" stroke="#d2153f" stroke-width="1.3" stroke-linejoin="miter" stroke-miterlimit="3" stroke-linecap="round"/>
<path d="M367.46,113.05 L384.05,113.36 L388.88,105.51 L392.05,75.34 L394.16,37.63 L396.12,22.84 L398.08,37.63 L400.19,75.34 L402.46,92.69 L405.17,93.44 L409.70,96.46 L414.22,94.20 L418.75,91.63 L421.01,94.95 L423.27,104.00 L426.29,110.79 L430.82,112.45 L438.36,112.75 L459.48,113.05 L464.00,113.36" fill="none" stroke="#1b5693" stroke-width="1.3" stroke-linejoin="miter" stroke-miterlimit="3" stroke-linecap="round"/>
<path d="M242.46,241.37 L256.79,241.37 L259.05,236.55 L261.31,227.49 L263.58,185.26 L265.84,155.09 L267.35,150.56 L269.61,162.63 L270.82,174.70 L272.63,192.80 L274.89,215.43 L277.15,224.48 L281.68,232.77 L287.71,238.05 L293.75,240.77 L310.04,241.37 L339.00,241.37" fill="none" stroke="#d2153f" stroke-width="1.3" stroke-linejoin="miter" stroke-miterlimit="3" stroke-linecap="round"/>
<path d="M242.46,241.37 L257.54,241.37 L259.81,235.04 L262.07,227.49 L264.33,192.80 L266.29,159.61 L267.80,151.31 L268.40,157.35 L269.31,150.56 L271.12,170.17 L273.38,200.34 L275.64,224.48 L277.15,230.51 L281.68,234.28 L284.70,233.83 L289.22,238.05 L293.75,240.77 L310.04,241.37 L339.00,241.37" fill="none" stroke="#1b5693" stroke-width="1.3" stroke-linejoin="miter" stroke-miterlimit="3" stroke-linecap="round"/>
<path d="M367.46,240.77 L381.79,240.77 L384.05,236.55 L387.07,221.46 L389.33,192.80 L391.29,159.61 L392.80,150.86 L394.61,164.14 L396.87,195.82 L399.14,216.93 L402.15,225.99 L406.68,232.02 L413.47,234.74 L416.48,237.30 L420.26,240.32 L435.04,240.62 L459.48,240.47 L464.00,240.77" fill="none" stroke="#d2153f" stroke-width="1.3" stroke-linejoin="miter" stroke-miterlimit="3" stroke-linecap="round"/>
<path d="M367.46,240.77 L384.05,240.77 L387.07,235.04 L389.33,215.43 L391.59,177.71 L393.10,151.31 L394.31,152.07 L395.37,170.17 L397.63,200.34 L399.89,215.43 L402.15,226.74 L405.17,231.27 L408.94,229.00 L413.92,225.23 L417.24,229.00 L420.26,235.79 L424.03,239.56 L435.04,240.32 L459.48,240.17 L464.00,240.77" fill="none" stroke="#1b5693" stroke-width="1.3" stroke-linejoin="miter" stroke-miterlimit="3" stroke-linecap="round"/>
<text x="402.30" y="168.81" font-size="8.97" fill="#d2153f" stroke="#d2153f" font-weight="normal" textLength="30.50" lengthAdjust="spacingAndGlyphs">sgRNA(–)</text>
<text x="405.00" y="182.71" font-size="8.97" fill="#1b5693" stroke="#1b5693" font-weight="normal" textLength="31.00" lengthAdjust="spacingAndGlyphs">sgRNA(+)</text>
<line x1="218.50" y1="25.50" x2="218.50" y2="212.60" stroke="#666" stroke-width="0.9"/>
<path d="M218.5,22.2 L220.9,26.4 L216.1,26.4Z" fill="#000"/>
<text transform="translate(206.60,65.40) rotate(-90)" x="0" y="3.82" font-size="10.66" fill="#000" stroke="#000" text-anchor="middle" textLength="22.80" lengthAdjust="spacingAndGlyphs">DMSO</text>
<text transform="translate(207.40,193.60) rotate(-90)" x="0" y="3.82" font-size="10.66" fill="#000" stroke="#000" text-anchor="middle" textLength="35.40" lengthAdjust="spacingAndGlyphs">Palbociclib</text>
<text transform="translate(217.80,230.40) rotate(-90)" x="0" y="3.82" font-size="10.66" fill="#000" stroke="#000" text-anchor="middle" textLength="30.00" lengthAdjust="spacingAndGlyphs">% of cells</text>
<text x="240.70" y="275.92" font-size="10.4" fill="#000" stroke="#000" font-weight="normal" textLength="41.30" lengthAdjust="spacingAndGlyphs">DNA content</text>
<line x1="287.00" y1="272.20" x2="457.00" y2="272.20" stroke="#666" stroke-width="0.9"/>
<path d="M460.8,272.2 L456.4,269.8 L456.4,274.6Z" fill="#000"/>
<text x="7.00" y="299.50" font-size="12.0" font-weight="bold" fill="#000" stroke="#000" stroke-width="0.3">K</text>
<text x="108.30" y="300.04" font-size="9.879999999999999" fill="#000" stroke="#000" text-anchor="middle" font-weight="normal" textLength="33.80" lengthAdjust="spacingAndGlyphs">sgAAVS1</text>
<text x="246.10" y="300.04" font-size="9.879999999999999" fill="#000" stroke="#000" text-anchor="middle" font-weight="normal" textLength="27.40" lengthAdjust="spacingAndGlyphs">sgTP53</text>
<line x1="23.90" y1="311.00" x2="23.90" y2="523.60" stroke="#666" stroke-width="0.9"/>
<path d="M23.9,307.6 L26.2,311.8 L21.6,311.8Z" fill="#000"/>
<text transform="translate(17.10,346.70) rotate(-90)" x="0" y="3.82" font-size="10.66" fill="#000" stroke="#000" text-anchor="middle" textLength="21.00" lengthAdjust="spacingAndGlyphs">DMSO</text>
<text transform="translate(17.10,483.50) rotate(-90)" x="0" y="3.82" font-size="10.66" fill="#000" stroke="#000" text-anchor="middle" textLength="35.40" lengthAdjust="spacingAndGlyphs">Palbociclib</text>
<text transform="translate(23.90,530.30) rotate(-90)" x="0" y="3.54" font-size="9.879999999999999" fill="#000" stroke="#000" text-anchor="middle" textLength="6.00" lengthAdjust="spacingAndGlyphs">PI</text>
<text x="53.00" y="559.92" font-size="10.4" fill="#000" stroke="#000" font-weight="normal" textLength="33.30" lengthAdjust="spacingAndGlyphs">Annexin V</text>
<line x1="90.00" y1="555.50" x2="294.00" y2="555.50" stroke="#666" stroke-width="0.9"/>
<path d="M297.8,555.5 L293.4,553.1 L293.4,557.9Z" fill="#000"/>
<defs><filter id="bl1" x="-20%" y="-20%" width="140%" height="140%"><feGaussianBlur stdDeviation="1.6"/></filter><filter id="bl2" x="-30%" y="-30%" width="160%" height="160%"><feGaussianBlur stdDeviation="2.6"/></filter><filter id="bl3" x="-30%" y="-30%" width="160%" height="160%"><feGaussianBlur stdDeviation="1.0"/></filter><clipPath id="cp1"><rect x="55" y="304" width="106" height="105"/></clipPath><clipPath id="cp2"><rect x="193.5" y="304" width="106" height="105"/></clipPath><clipPath id="cp3"><rect x="55.5" y="431" width="106" height="105"/></clipPath><clipPath id="cp4"><rect x="193.7" y="430.8" width="106" height="105.5"/></clipPath></defs>
<defs><radialGradient id="rg"><stop offset="0" stop-color="#000" stop-opacity="1"/><stop offset="0.3" stop-color="#000" stop-opacity="0.80"/><stop offset="0.55" stop-color="#000" stop-opacity="0.45"/><stop offset="0.8" stop-color="#000" stop-opacity="0.16"/><stop offset="1" stop-color="#000" stop-opacity="0"/></radialGradient><radialGradient id="rg2"><stop offset="0" stop-color="#000" stop-opacity="1"/><stop offset="0.5" stop-color="#000" stop-opacity="0.7"/><stop offset="1" stop-color="#000" stop-opacity="0"/></radialGradient><filter id="bs" x="-10%" y="-10%" width="120%" height="120%"><feGaussianBlur stdDeviation="0.55"/></filter></defs>
<clipPath id="oc1"><path d="M50.0,351.0 C51.2,344.5 54.6,352.1 57.0,351.0 C59.4,349.9 61.7,346.0 64.6,344.6 C67.5,343.2 70.5,343.3 74.2,342.7 C77.9,342.1 83.8,341.6 86.7,340.8 C89.6,340.0 89.5,339.5 91.5,337.9 C93.5,336.3 96.8,332.7 99.0,331.0 C101.2,329.3 102.5,328.4 105.0,327.5 C107.5,326.6 111.0,325.8 114.0,325.5 C117.0,325.2 120.5,325.0 123.0,325.5 C125.5,326.0 128.5,327.1 129.0,328.5 C129.5,329.9 127.0,331.8 126.0,334.0 C125.0,336.2 123.7,339.3 123.0,342.0 C122.3,344.7 122.6,347.0 122.0,350.0 C121.4,353.0 121.6,357.0 119.6,360.0 C117.6,363.0 112.6,365.8 110.0,368.0 C107.4,370.2 106.0,371.0 104.0,373.0 C102.0,375.0 101.7,377.6 98.3,380.2 C94.9,382.8 88.6,386.7 83.8,388.8 C79.0,390.9 73.4,392.4 69.4,392.7 C65.4,393.0 63.0,391.2 59.8,390.8 C56.6,390.4 51.6,396.6 50.0,390.0 C48.4,383.4 48.8,357.5 50.0,351.0Z"/></clipPath>
<g clip-path="url(#cp1)"><g filter="url(#bs)">
<g clip-path="url(#oc1)">
<rect x="50" y="320" width="90" height="80" fill="#dedede"/>
<ellipse cx="95.0" cy="358.0" rx="30.0" ry="14.0" fill="url(#rg)" opacity="0.42" transform="rotate(-30 95.0 358.0)"/>
<ellipse cx="80.0" cy="365.0" rx="26.0" ry="20.0" fill="url(#rg)" opacity="0.36" transform="rotate(-25 80.0 365.0)"/>
<ellipse cx="112.0" cy="357.0" rx="9.0" ry="10.0" fill="url(#rg)" opacity="0.42" transform="rotate(20 112.0 357.0)"/>
<ellipse cx="117.0" cy="330.0" rx="11.0" ry="4.5" fill="url(#rg)" opacity="0.22" transform="rotate(0 117.0 330.0)"/>
<ellipse cx="70.0" cy="369.0" rx="28.0" ry="34.0" fill="url(#rg)" opacity="0.88" transform="rotate(10 70.0 369.0)"/>
<ellipse cx="69.9" cy="371.0" rx="12.0" ry="16.0" fill="url(#rg2)" opacity="0.6" transform="rotate(0 69.9 371.0)"/>
<ellipse cx="69.9" cy="371.0" rx="5.0" ry="7.0" fill="none" stroke="#fff" stroke-width="0.7" opacity="0.18"/>
</g>
<ellipse cx="99.5" cy="343.6" rx="8.5" ry="4.9" fill="#fff" transform="rotate(0 99.5 343.6)"/>
</g></g>
<clipPath id="oc2"><path d="M188.0,356.0 C189.9,348.7 197.2,353.4 201.7,352.3 C206.2,351.2 211.6,350.1 215.0,349.5 C218.4,348.9 219.5,348.4 222.0,349.0 C224.5,349.6 227.7,351.9 230.0,353.0 C232.3,354.1 234.2,355.7 236.0,355.5 C237.8,355.3 239.3,353.8 241.0,352.0 C242.7,350.2 246.8,346.5 246.0,345.0 C245.2,343.5 239.0,343.4 236.0,343.0 C233.0,342.6 229.5,343.2 228.0,342.5 C226.5,341.8 225.8,340.4 227.0,339.0 C228.2,337.6 233.2,335.7 235.0,334.0 C236.8,332.3 235.5,330.3 238.0,329.0 C240.5,327.7 246.0,326.6 250.0,326.0 C254.0,325.4 259.2,324.8 262.0,325.5 C264.8,326.2 266.7,328.1 267.0,330.0 C267.3,331.9 264.8,334.2 264.0,337.0 C263.2,339.8 263.0,343.8 262.0,347.0 C261.0,350.2 259.7,353.2 258.0,356.0 C256.3,358.8 254.3,361.3 252.0,364.0 C249.7,366.7 246.0,368.6 244.0,372.0 C242.0,375.4 243.2,381.5 240.0,384.6 C236.8,387.7 230.5,389.0 224.8,390.8 C219.1,392.6 211.8,394.6 206.0,395.5 C200.2,396.4 193.0,402.6 190.0,396.0 C187.0,389.4 186.1,363.3 188.0,356.0Z"/></clipPath>
<g clip-path="url(#cp2)"><g filter="url(#bs)">
<g clip-path="url(#oc2)">
<rect x="185" y="320" width="90" height="80" fill="#dedede"/>
<ellipse cx="232.0" cy="366.0" rx="24.0" ry="12.0" fill="url(#rg)" opacity="0.4" transform="rotate(-35 232.0 366.0)"/>
<ellipse cx="218.0" cy="372.0" rx="24.0" ry="18.0" fill="url(#rg)" opacity="0.36" transform="rotate(-20 218.0 372.0)"/>
<ellipse cx="248.0" cy="362.0" rx="12.0" ry="24.0" fill="url(#rg)" opacity="0.36" transform="rotate(35 248.0 362.0)"/>
<ellipse cx="252.0" cy="357.5" rx="8.0" ry="10.0" fill="url(#rg)" opacity="0.4" transform="rotate(20 252.0 357.5)"/>
<ellipse cx="252.0" cy="330.0" rx="11.0" ry="4.5" fill="url(#rg)" opacity="0.22" transform="rotate(0 252.0 330.0)"/>
<ellipse cx="208.0" cy="375.0" rx="26.0" ry="22.0" fill="url(#rg)" opacity="0.88" transform="rotate(0 208.0 375.0)"/>
<ellipse cx="207.0" cy="376.2" rx="10.0" ry="9.0" fill="url(#rg2)" opacity="0.55" transform="rotate(0 207.0 376.2)"/>
<ellipse cx="207.0" cy="376.2" rx="5.5" ry="4.8" fill="none" stroke="#fff" stroke-width="0.7" opacity="0.18"/>
</g>
</g></g>
<clipPath id="oc3"><path d="M79.0,457.5 C81.8,456.8 88.0,456.8 91.0,457.5 C94.0,458.2 95.5,460.2 97.0,462.0 C98.5,463.8 99.3,465.3 100.0,468.0 C100.7,470.7 100.7,474.3 101.0,478.0 C101.3,481.7 101.8,486.5 102.0,490.0 C102.2,493.5 104.3,496.5 102.0,499.0 C99.7,501.5 93.0,503.2 88.0,505.0 C83.0,506.8 76.2,508.8 72.0,509.5 C67.8,510.2 64.8,510.6 63.0,509.0 C61.2,507.4 61.0,504.2 61.0,500.0 C61.0,495.8 61.8,488.8 63.0,484.0 C64.2,479.2 66.2,474.7 68.0,471.0 C69.8,467.3 72.2,464.2 74.0,462.0 C75.8,459.8 76.2,458.2 79.0,457.5Z"/><path d="M98.0,466.0 C96.8,462.0 93.7,457.8 96.0,456.0 C98.3,454.2 106.7,455.2 112.0,455.0 C117.3,454.8 124.8,454.2 128.0,455.0 C131.2,455.8 130.8,458.0 131.0,460.0 C131.2,462.0 128.8,464.3 129.0,467.0 C129.2,469.7 131.0,472.5 132.0,476.0 C133.0,479.5 135.7,484.5 135.0,488.0 C134.3,491.5 131.5,495.0 128.0,497.0 C124.5,499.0 118.0,499.5 114.0,500.0 C110.0,500.5 105.8,503.3 104.0,500.0 C102.2,496.7 104.0,485.7 103.0,480.0 C102.0,474.3 99.2,470.0 98.0,466.0Z"/></clipPath>
<g clip-path="url(#cp3)"><g filter="url(#bs)">
<g clip-path="url(#oc3)">
<rect x="55" y="450" width="85" height="65" fill="#dedede"/>
<ellipse cx="113.0" cy="460.0" rx="12.0" ry="5.0" fill="url(#rg)" opacity="0.2" transform="rotate(0 113.0 460.0)"/>
<ellipse cx="83.0" cy="485.0" rx="20.0" ry="32.0" fill="url(#rg)" opacity="0.8" transform="rotate(5 83.0 485.0)"/>
<ellipse cx="83.0" cy="489.0" rx="7.0" ry="11.0" fill="url(#rg2)" opacity="0.55" transform="rotate(5 83.0 489.0)"/>
<ellipse cx="118.0" cy="483.0" rx="25.0" ry="21.0" fill="url(#rg)" opacity="0.92" transform="rotate(0 118.0 483.0)"/>
<ellipse cx="117.5" cy="482.7" rx="13.0" ry="9.5" fill="url(#rg2)" opacity="0.65" transform="rotate(0 117.5 482.7)"/>
<ellipse cx="117.5" cy="482.7" rx="6.5" ry="4.2" fill="none" stroke="#fff" stroke-width="0.7" opacity="0.2"/>
</g>
<ellipse cx="99.5" cy="466.5" rx="2.6" ry="3.2" fill="#fff" transform="rotate(0 99.5 466.5)"/>
</g></g>
<clipPath id="oc4"><path d="M196.0,490.0 C196.3,485.5 197.8,483.1 200.0,480.0 C202.2,476.9 204.9,473.5 209.0,471.5 C213.1,469.5 220.6,468.0 224.8,468.0 C229.0,468.0 231.7,470.4 234.0,471.5 C236.3,472.6 237.3,474.8 238.6,474.5 C239.9,474.2 241.4,471.6 242.0,470.0 C242.6,468.4 243.0,466.3 242.0,465.0 C241.0,463.7 237.0,463.3 236.0,462.0 C235.0,460.7 234.3,458.5 236.0,457.0 C237.7,455.5 241.7,453.8 246.0,453.0 C250.3,452.2 259.2,451.5 262.0,452.5 C264.8,453.5 263.0,456.9 263.0,459.0 C263.0,461.1 261.8,462.8 262.0,465.0 C262.2,467.2 264.0,468.7 264.5,472.0 C265.0,475.3 265.8,481.7 265.0,485.0 C264.2,488.3 262.5,490.0 260.0,492.0 C257.5,494.0 253.2,495.7 250.0,497.0 C246.8,498.3 243.3,498.8 241.0,500.0 C238.7,501.2 238.7,502.6 236.0,504.0 C233.3,505.4 229.8,507.2 224.8,508.5 C219.9,509.8 210.8,511.8 206.3,511.5 C201.8,511.2 199.7,510.6 198.0,507.0 C196.3,503.4 195.7,494.5 196.0,490.0Z"/></clipPath>
<g clip-path="url(#cp4)"><g filter="url(#bs)">
<g clip-path="url(#oc4)">
<rect x="190" y="445" width="80" height="70" fill="#dedede"/>
<ellipse cx="250.0" cy="458.0" rx="11.0" ry="4.0" fill="url(#rg)" opacity="0.15" transform="rotate(0 250.0 458.0)"/>
<ellipse cx="217.0" cy="492.0" rx="26.0" ry="24.0" fill="url(#rg)" opacity="0.88" transform="rotate(-20 217.0 492.0)"/>
<ellipse cx="215.5" cy="494.2" rx="11.0" ry="10.0" fill="url(#rg2)" opacity="0.65" transform="rotate(0 215.5 494.2)"/>
<ellipse cx="252.0" cy="482.0" rx="17.0" ry="23.0" fill="url(#rg)" opacity="0.68" transform="rotate(20 252.0 482.0)"/>
<ellipse cx="251.0" cy="483.5" rx="7.5" ry="7.0" fill="url(#rg2)" opacity="0.7" transform="rotate(0 251.0 483.5)"/>
<ellipse cx="215.5" cy="494.2" rx="5.8" ry="5.0" fill="none" stroke="#fff" stroke-width="0.7" opacity="0.18"/>
</g>
</g></g>
<text x="31.20" y="316.51" font-size="7.28" textLength="19" lengthAdjust="spacingAndGlyphs" stroke="#000">1×10<tspan dy="-2.2" font-size="5.20">5</tspan></text>
<text x="50.20" y="339.91" font-size="7.279999999999999" fill="#000" stroke="#000" text-anchor="end" textLength="20.20" lengthAdjust="spacingAndGlyphs">10000</text>
<text x="50.20" y="364.21" font-size="7.279999999999999" fill="#000" stroke="#000" text-anchor="end" textLength="15.90" lengthAdjust="spacingAndGlyphs">1000</text>
<text x="50.20" y="389.61" font-size="7.279999999999999" fill="#000" stroke="#000" text-anchor="end" textLength="11.60" lengthAdjust="spacingAndGlyphs">100</text>
<text x="50.20" y="401.21" font-size="7.279999999999999" fill="#000" stroke="#000" text-anchor="end" textLength="4.20" lengthAdjust="spacingAndGlyphs">0</text>
<text x="65.40" y="421.71" font-size="7.279999999999999" fill="#000" stroke="#000" text-anchor="middle" font-weight="normal" textLength="4.00" lengthAdjust="spacingAndGlyphs">0</text>
<text x="78.30" y="421.71" font-size="7.279999999999999" fill="#000" stroke="#000" text-anchor="middle" font-weight="normal" textLength="12.00" lengthAdjust="spacingAndGlyphs">100</text>
<text x="103.10" y="421.71" font-size="7.279999999999999" fill="#000" stroke="#000" text-anchor="middle" font-weight="normal" textLength="15.80" lengthAdjust="spacingAndGlyphs">1000</text>
<text x="128.00" y="421.71" font-size="7.279999999999999" fill="#000" stroke="#000" text-anchor="middle" font-weight="normal" textLength="19.00" lengthAdjust="spacingAndGlyphs">10000</text>
<text x="141.70" y="421.71" font-size="7.28" textLength="19" lengthAdjust="spacingAndGlyphs" stroke="#000">1×10<tspan dy="-2.2" font-size="5.20">5</tspan></text>
<line x1="53.50" y1="361.60" x2="55.50" y2="361.60" stroke="#000" stroke-width="0.6"/>
<line x1="53.50" y1="354.28" x2="55.50" y2="354.28" stroke="#000" stroke-width="0.6"/>
<line x1="53.50" y1="350.01" x2="55.50" y2="350.01" stroke="#000" stroke-width="0.6"/>
<line x1="53.50" y1="346.97" x2="55.50" y2="346.97" stroke="#000" stroke-width="0.6"/>
<line x1="53.50" y1="344.62" x2="55.50" y2="344.62" stroke="#000" stroke-width="0.6"/>
<line x1="53.50" y1="342.69" x2="55.50" y2="342.69" stroke="#000" stroke-width="0.6"/>
<line x1="53.50" y1="341.06" x2="55.50" y2="341.06" stroke="#000" stroke-width="0.6"/>
<line x1="53.50" y1="339.65" x2="55.50" y2="339.65" stroke="#000" stroke-width="0.6"/>
<line x1="53.50" y1="338.41" x2="55.50" y2="338.41" stroke="#000" stroke-width="0.6"/>
<line x1="53.50" y1="337.30" x2="55.50" y2="337.30" stroke="#000" stroke-width="0.6"/>
<line x1="53.50" y1="330.26" x2="55.50" y2="330.26" stroke="#000" stroke-width="0.6"/>
<line x1="53.50" y1="326.14" x2="55.50" y2="326.14" stroke="#000" stroke-width="0.6"/>
<line x1="53.50" y1="323.21" x2="55.50" y2="323.21" stroke="#000" stroke-width="0.6"/>
<line x1="53.50" y1="320.94" x2="55.50" y2="320.94" stroke="#000" stroke-width="0.6"/>
<line x1="53.50" y1="319.09" x2="55.50" y2="319.09" stroke="#000" stroke-width="0.6"/>
<line x1="53.50" y1="317.52" x2="55.50" y2="317.52" stroke="#000" stroke-width="0.6"/>
<line x1="53.50" y1="316.17" x2="55.50" y2="316.17" stroke="#000" stroke-width="0.6"/>
<line x1="53.50" y1="314.97" x2="55.50" y2="314.97" stroke="#000" stroke-width="0.6"/>
<line x1="53.50" y1="387.00" x2="55.50" y2="387.00" stroke="#000" stroke-width="0.6"/>
<line x1="53.50" y1="379.35" x2="55.50" y2="379.35" stroke="#000" stroke-width="0.6"/>
<line x1="53.50" y1="374.88" x2="55.50" y2="374.88" stroke="#000" stroke-width="0.6"/>
<line x1="53.50" y1="371.71" x2="55.50" y2="371.71" stroke="#000" stroke-width="0.6"/>
<line x1="53.50" y1="369.25" x2="55.50" y2="369.25" stroke="#000" stroke-width="0.6"/>
<line x1="53.50" y1="367.23" x2="55.50" y2="367.23" stroke="#000" stroke-width="0.6"/>
<line x1="53.50" y1="365.53" x2="55.50" y2="365.53" stroke="#000" stroke-width="0.6"/>
<line x1="53.50" y1="364.06" x2="55.50" y2="364.06" stroke="#000" stroke-width="0.6"/>
<line x1="53.50" y1="362.76" x2="55.50" y2="362.76" stroke="#000" stroke-width="0.6"/>
<line x1="52.50" y1="313.90" x2="55.50" y2="313.90" stroke="#000" stroke-width="0.7"/>
<line x1="52.50" y1="337.30" x2="55.50" y2="337.30" stroke="#000" stroke-width="0.7"/>
<line x1="52.50" y1="361.60" x2="55.50" y2="361.60" stroke="#000" stroke-width="0.7"/>
<line x1="52.50" y1="387.00" x2="55.50" y2="387.00" stroke="#000" stroke-width="0.7"/>
<line x1="52.50" y1="398.60" x2="55.50" y2="398.60" stroke="#000" stroke-width="0.7"/>
<line x1="54.00" y1="391.30" x2="55.50" y2="391.30" stroke="#000" stroke-width="0.5"/>
<line x1="54.00" y1="393.30" x2="55.50" y2="393.30" stroke="#000" stroke-width="0.5"/>
<line x1="54.00" y1="395.30" x2="55.50" y2="395.30" stroke="#000" stroke-width="0.5"/>
<line x1="54.00" y1="397.30" x2="55.50" y2="397.30" stroke="#000" stroke-width="0.5"/>
<line x1="54.00" y1="399.30" x2="55.50" y2="399.30" stroke="#000" stroke-width="0.5"/>
<line x1="54.00" y1="401.30" x2="55.50" y2="401.30" stroke="#000" stroke-width="0.5"/>
<line x1="54.00" y1="403.30" x2="55.50" y2="403.30" stroke="#000" stroke-width="0.5"/>
<line x1="54.00" y1="405.30" x2="55.50" y2="405.30" stroke="#000" stroke-width="0.5"/>
<line x1="54.00" y1="407.30" x2="55.50" y2="407.30" stroke="#000" stroke-width="0.5"/>
<line x1="77.40" y1="409.30" x2="77.40" y2="411.30" stroke="#000" stroke-width="0.6"/>
<line x1="85.05" y1="409.30" x2="85.05" y2="411.30" stroke="#000" stroke-width="0.6"/>
<line x1="89.52" y1="409.30" x2="89.52" y2="411.30" stroke="#000" stroke-width="0.6"/>
<line x1="92.69" y1="409.30" x2="92.69" y2="411.30" stroke="#000" stroke-width="0.6"/>
<line x1="95.15" y1="409.30" x2="95.15" y2="411.30" stroke="#000" stroke-width="0.6"/>
<line x1="97.17" y1="409.30" x2="97.17" y2="411.30" stroke="#000" stroke-width="0.6"/>
<line x1="98.87" y1="409.30" x2="98.87" y2="411.30" stroke="#000" stroke-width="0.6"/>
<line x1="100.34" y1="409.30" x2="100.34" y2="411.30" stroke="#000" stroke-width="0.6"/>
<line x1="101.64" y1="409.30" x2="101.64" y2="411.30" stroke="#000" stroke-width="0.6"/>
<line x1="102.80" y1="409.30" x2="102.80" y2="411.30" stroke="#000" stroke-width="0.6"/>
<line x1="111.29" y1="409.30" x2="111.29" y2="411.30" stroke="#000" stroke-width="0.6"/>
<line x1="116.25" y1="409.30" x2="116.25" y2="411.30" stroke="#000" stroke-width="0.6"/>
<line x1="119.78" y1="409.30" x2="119.78" y2="411.30" stroke="#000" stroke-width="0.6"/>
<line x1="122.51" y1="409.30" x2="122.51" y2="411.30" stroke="#000" stroke-width="0.6"/>
<line x1="124.74" y1="409.30" x2="124.74" y2="411.30" stroke="#000" stroke-width="0.6"/>
<line x1="126.63" y1="409.30" x2="126.63" y2="411.30" stroke="#000" stroke-width="0.6"/>
<line x1="128.27" y1="409.30" x2="128.27" y2="411.30" stroke="#000" stroke-width="0.6"/>
<line x1="129.71" y1="409.30" x2="129.71" y2="411.30" stroke="#000" stroke-width="0.6"/>
<line x1="131.00" y1="409.30" x2="131.00" y2="411.30" stroke="#000" stroke-width="0.6"/>
<line x1="139.28" y1="409.30" x2="139.28" y2="411.30" stroke="#000" stroke-width="0.6"/>
<line x1="144.12" y1="409.30" x2="144.12" y2="411.30" stroke="#000" stroke-width="0.6"/>
<line x1="147.56" y1="409.30" x2="147.56" y2="411.30" stroke="#000" stroke-width="0.6"/>
<line x1="150.22" y1="409.30" x2="150.22" y2="411.30" stroke="#000" stroke-width="0.6"/>
<line x1="152.40" y1="409.30" x2="152.40" y2="411.30" stroke="#000" stroke-width="0.6"/>
<line x1="154.24" y1="409.30" x2="154.24" y2="411.30" stroke="#000" stroke-width="0.6"/>
<line x1="155.83" y1="409.30" x2="155.83" y2="411.30" stroke="#000" stroke-width="0.6"/>
<line x1="157.24" y1="409.30" x2="157.24" y2="411.30" stroke="#000" stroke-width="0.6"/>
<line x1="66.30" y1="409.30" x2="66.30" y2="412.30" stroke="#000" stroke-width="0.7"/>
<line x1="77.40" y1="409.30" x2="77.40" y2="412.30" stroke="#000" stroke-width="0.7"/>
<line x1="102.80" y1="409.30" x2="102.80" y2="412.30" stroke="#000" stroke-width="0.7"/>
<line x1="131.00" y1="409.30" x2="131.00" y2="412.30" stroke="#000" stroke-width="0.7"/>
<line x1="58.50" y1="409.30" x2="58.50" y2="410.80" stroke="#000" stroke-width="0.5"/>
<line x1="60.50" y1="409.30" x2="60.50" y2="410.80" stroke="#000" stroke-width="0.5"/>
<line x1="62.50" y1="409.30" x2="62.50" y2="410.80" stroke="#000" stroke-width="0.5"/>
<line x1="64.50" y1="409.30" x2="64.50" y2="410.80" stroke="#000" stroke-width="0.5"/>
<line x1="66.50" y1="409.30" x2="66.50" y2="410.80" stroke="#000" stroke-width="0.5"/>
<line x1="68.50" y1="409.30" x2="68.50" y2="410.80" stroke="#000" stroke-width="0.5"/>
<line x1="70.50" y1="409.30" x2="70.50" y2="410.80" stroke="#000" stroke-width="0.5"/>
<line x1="72.50" y1="409.30" x2="72.50" y2="410.80" stroke="#000" stroke-width="0.5"/>
<line x1="74.50" y1="409.30" x2="74.50" y2="410.80" stroke="#000" stroke-width="0.5"/>
<rect x="55.50" y="304.30" width="105.00" height="105.00" fill="none" stroke="#111" stroke-width="1.3"/>
<line x1="103.40" y1="304.30" x2="103.40" y2="409.30" stroke="#111" stroke-width="1.3"/>
<line x1="55.50" y1="337.20" x2="160.50" y2="337.20" stroke="#111" stroke-width="1.3"/>
<text x="60.30" y="314.56" font-size="9.1" fill="#000" stroke="#000" font-weight="normal" textLength="4.90" lengthAdjust="spacingAndGlyphs">0</text>
<text x="157.50" y="313.86" font-size="9.1" fill="#000" stroke="#000" text-anchor="end" textLength="4.90" lengthAdjust="spacingAndGlyphs">3</text>
<text x="59.50" y="404.76" font-size="9.1" fill="#000" stroke="#000" font-weight="normal" textLength="10.00" lengthAdjust="spacingAndGlyphs">90</text>
<text x="157.50" y="405.76" font-size="9.1" fill="#000" stroke="#000" text-anchor="end" textLength="4.90" lengthAdjust="spacingAndGlyphs">6</text>
<text x="169.70" y="316.91" font-size="7.28" textLength="19" lengthAdjust="spacingAndGlyphs" stroke="#000">1×10<tspan dy="-2.2" font-size="5.20">5</tspan></text>
<text x="188.70" y="340.31" font-size="7.279999999999999" fill="#000" stroke="#000" text-anchor="end" textLength="20.20" lengthAdjust="spacingAndGlyphs">10000</text>
<text x="188.70" y="364.61" font-size="7.279999999999999" fill="#000" stroke="#000" text-anchor="end" textLength="15.90" lengthAdjust="spacingAndGlyphs">1000</text>
<text x="188.70" y="390.01" font-size="7.279999999999999" fill="#000" stroke="#000" text-anchor="end" textLength="11.60" lengthAdjust="spacingAndGlyphs">100</text>
<text x="188.70" y="401.61" font-size="7.279999999999999" fill="#000" stroke="#000" text-anchor="end" textLength="4.20" lengthAdjust="spacingAndGlyphs">0</text>
<text x="203.90" y="422.11" font-size="7.279999999999999" fill="#000" stroke="#000" text-anchor="middle" font-weight="normal" textLength="4.00" lengthAdjust="spacingAndGlyphs">0</text>
<text x="216.80" y="422.11" font-size="7.279999999999999" fill="#000" stroke="#000" text-anchor="middle" font-weight="normal" textLength="12.00" lengthAdjust="spacingAndGlyphs">100</text>
<text x="241.60" y="422.11" font-size="7.279999999999999" fill="#000" stroke="#000" text-anchor="middle" font-weight="normal" textLength="15.80" lengthAdjust="spacingAndGlyphs">1000</text>
<text x="266.50" y="422.11" font-size="7.279999999999999" fill="#000" stroke="#000" text-anchor="middle" font-weight="normal" textLength="19.00" lengthAdjust="spacingAndGlyphs">10000</text>
<text x="280.20" y="422.11" font-size="7.28" textLength="19" lengthAdjust="spacingAndGlyphs" stroke="#000">1×10<tspan dy="-2.2" font-size="5.20">5</tspan></text>
<line x1="192.00" y1="362.00" x2="194.00" y2="362.00" stroke="#000" stroke-width="0.6"/>
<line x1="192.00" y1="354.68" x2="194.00" y2="354.68" stroke="#000" stroke-width="0.6"/>
<line x1="192.00" y1="350.41" x2="194.00" y2="350.41" stroke="#000" stroke-width="0.6"/>
<line x1="192.00" y1="347.37" x2="194.00" y2="347.37" stroke="#000" stroke-width="0.6"/>
<line x1="192.00" y1="345.02" x2="194.00" y2="345.02" stroke="#000" stroke-width="0.6"/>
<line x1="192.00" y1="343.09" x2="194.00" y2="343.09" stroke="#000" stroke-width="0.6"/>
<line x1="192.00" y1="341.46" x2="194.00" y2="341.46" stroke="#000" stroke-width="0.6"/>
<line x1="192.00" y1="340.05" x2="194.00" y2="340.05" stroke="#000" stroke-width="0.6"/>
<line x1="192.00" y1="338.81" x2="194.00" y2="338.81" stroke="#000" stroke-width="0.6"/>
<line x1="192.00" y1="337.70" x2="194.00" y2="337.70" stroke="#000" stroke-width="0.6"/>
<line x1="192.00" y1="330.66" x2="194.00" y2="330.66" stroke="#000" stroke-width="0.6"/>
<line x1="192.00" y1="326.54" x2="194.00" y2="326.54" stroke="#000" stroke-width="0.6"/>
<line x1="192.00" y1="323.61" x2="194.00" y2="323.61" stroke="#000" stroke-width="0.6"/>
<line x1="192.00" y1="321.34" x2="194.00" y2="321.34" stroke="#000" stroke-width="0.6"/>
<line x1="192.00" y1="319.49" x2="194.00" y2="319.49" stroke="#000" stroke-width="0.6"/>
<line x1="192.00" y1="317.92" x2="194.00" y2="317.92" stroke="#000" stroke-width="0.6"/>
<line x1="192.00" y1="316.57" x2="194.00" y2="316.57" stroke="#000" stroke-width="0.6"/>
<line x1="192.00" y1="315.37" x2="194.00" y2="315.37" stroke="#000" stroke-width="0.6"/>
<line x1="192.00" y1="387.40" x2="194.00" y2="387.40" stroke="#000" stroke-width="0.6"/>
<line x1="192.00" y1="379.75" x2="194.00" y2="379.75" stroke="#000" stroke-width="0.6"/>
<line x1="192.00" y1="375.28" x2="194.00" y2="375.28" stroke="#000" stroke-width="0.6"/>
<line x1="192.00" y1="372.11" x2="194.00" y2="372.11" stroke="#000" stroke-width="0.6"/>
<line x1="192.00" y1="369.65" x2="194.00" y2="369.65" stroke="#000" stroke-width="0.6"/>
<line x1="192.00" y1="367.63" x2="194.00" y2="367.63" stroke="#000" stroke-width="0.6"/>
<line x1="192.00" y1="365.93" x2="194.00" y2="365.93" stroke="#000" stroke-width="0.6"/>
<line x1="192.00" y1="364.46" x2="194.00" y2="364.46" stroke="#000" stroke-width="0.6"/>
<line x1="192.00" y1="363.16" x2="194.00" y2="363.16" stroke="#000" stroke-width="0.6"/>
<line x1="191.00" y1="314.30" x2="194.00" y2="314.30" stroke="#000" stroke-width="0.7"/>
<line x1="191.00" y1="337.70" x2="194.00" y2="337.70" stroke="#000" stroke-width="0.7"/>
<line x1="191.00" y1="362.00" x2="194.00" y2="362.00" stroke="#000" stroke-width="0.7"/>
<line x1="191.00" y1="387.40" x2="194.00" y2="387.40" stroke="#000" stroke-width="0.7"/>
<line x1="191.00" y1="399.00" x2="194.00" y2="399.00" stroke="#000" stroke-width="0.7"/>
<line x1="192.50" y1="391.70" x2="194.00" y2="391.70" stroke="#000" stroke-width="0.5"/>
<line x1="192.50" y1="393.70" x2="194.00" y2="393.70" stroke="#000" stroke-width="0.5"/>
<line x1="192.50" y1="395.70" x2="194.00" y2="395.70" stroke="#000" stroke-width="0.5"/>
<line x1="192.50" y1="397.70" x2="194.00" y2="397.70" stroke="#000" stroke-width="0.5"/>
<line x1="192.50" y1="399.70" x2="194.00" y2="399.70" stroke="#000" stroke-width="0.5"/>
<line x1="192.50" y1="401.70" x2="194.00" y2="401.70" stroke="#000" stroke-width="0.5"/>
<line x1="192.50" y1="403.70" x2="194.00" y2="403.70" stroke="#000" stroke-width="0.5"/>
<line x1="192.50" y1="405.70" x2="194.00" y2="405.70" stroke="#000" stroke-width="0.5"/>
<line x1="192.50" y1="407.70" x2="194.00" y2="407.70" stroke="#000" stroke-width="0.5"/>
<line x1="215.90" y1="409.70" x2="215.90" y2="411.70" stroke="#000" stroke-width="0.6"/>
<line x1="223.55" y1="409.70" x2="223.55" y2="411.70" stroke="#000" stroke-width="0.6"/>
<line x1="228.02" y1="409.70" x2="228.02" y2="411.70" stroke="#000" stroke-width="0.6"/>
<line x1="231.19" y1="409.70" x2="231.19" y2="411.70" stroke="#000" stroke-width="0.6"/>
<line x1="233.65" y1="409.70" x2="233.65" y2="411.70" stroke="#000" stroke-width="0.6"/>
<line x1="235.67" y1="409.70" x2="235.67" y2="411.70" stroke="#000" stroke-width="0.6"/>
<line x1="237.37" y1="409.70" x2="237.37" y2="411.70" stroke="#000" stroke-width="0.6"/>
<line x1="238.84" y1="409.70" x2="238.84" y2="411.70" stroke="#000" stroke-width="0.6"/>
<line x1="240.14" y1="409.70" x2="240.14" y2="411.70" stroke="#000" stroke-width="0.6"/>
<line x1="241.30" y1="409.70" x2="241.30" y2="411.70" stroke="#000" stroke-width="0.6"/>
<line x1="249.79" y1="409.70" x2="249.79" y2="411.70" stroke="#000" stroke-width="0.6"/>
<line x1="254.75" y1="409.70" x2="254.75" y2="411.70" stroke="#000" stroke-width="0.6"/>
<line x1="258.28" y1="409.70" x2="258.28" y2="411.70" stroke="#000" stroke-width="0.6"/>
<line x1="261.01" y1="409.70" x2="261.01" y2="411.70" stroke="#000" stroke-width="0.6"/>
<line x1="263.24" y1="409.70" x2="263.24" y2="411.70" stroke="#000" stroke-width="0.6"/>
<line x1="265.13" y1="409.70" x2="265.13" y2="411.70" stroke="#000" stroke-width="0.6"/>
<line x1="266.77" y1="409.70" x2="266.77" y2="411.70" stroke="#000" stroke-width="0.6"/>
<line x1="268.21" y1="409.70" x2="268.21" y2="411.70" stroke="#000" stroke-width="0.6"/>
<line x1="269.50" y1="409.70" x2="269.50" y2="411.70" stroke="#000" stroke-width="0.6"/>
<line x1="277.78" y1="409.70" x2="277.78" y2="411.70" stroke="#000" stroke-width="0.6"/>
<line x1="282.62" y1="409.70" x2="282.62" y2="411.70" stroke="#000" stroke-width="0.6"/>
<line x1="286.06" y1="409.70" x2="286.06" y2="411.70" stroke="#000" stroke-width="0.6"/>
<line x1="288.72" y1="409.70" x2="288.72" y2="411.70" stroke="#000" stroke-width="0.6"/>
<line x1="290.90" y1="409.70" x2="290.90" y2="411.70" stroke="#000" stroke-width="0.6"/>
<line x1="292.74" y1="409.70" x2="292.74" y2="411.70" stroke="#000" stroke-width="0.6"/>
<line x1="294.33" y1="409.70" x2="294.33" y2="411.70" stroke="#000" stroke-width="0.6"/>
<line x1="295.74" y1="409.70" x2="295.74" y2="411.70" stroke="#000" stroke-width="0.6"/>
<line x1="204.80" y1="409.70" x2="204.80" y2="412.70" stroke="#000" stroke-width="0.7"/>
<line x1="215.90" y1="409.70" x2="215.90" y2="412.70" stroke="#000" stroke-width="0.7"/>
<line x1="241.30" y1="409.70" x2="241.30" y2="412.70" stroke="#000" stroke-width="0.7"/>
<line x1="269.50" y1="409.70" x2="269.50" y2="412.70" stroke="#000" stroke-width="0.7"/>
<line x1="197.00" y1="409.70" x2="197.00" y2="411.20" stroke="#000" stroke-width="0.5"/>
<line x1="199.00" y1="409.70" x2="199.00" y2="411.20" stroke="#000" stroke-width="0.5"/>
<line x1="201.00" y1="409.70" x2="201.00" y2="411.20" stroke="#000" stroke-width="0.5"/>
<line x1="203.00" y1="409.70" x2="203.00" y2="411.20" stroke="#000" stroke-width="0.5"/>
<line x1="205.00" y1="409.70" x2="205.00" y2="411.20" stroke="#000" stroke-width="0.5"/>
<line x1="207.00" y1="409.70" x2="207.00" y2="411.20" stroke="#000" stroke-width="0.5"/>
<line x1="209.00" y1="409.70" x2="209.00" y2="411.20" stroke="#000" stroke-width="0.5"/>
<line x1="211.00" y1="409.70" x2="211.00" y2="411.20" stroke="#000" stroke-width="0.5"/>
<line x1="213.00" y1="409.70" x2="213.00" y2="411.20" stroke="#000" stroke-width="0.5"/>
<rect x="194.00" y="304.70" width="104.40" height="104.70" fill="none" stroke="#111" stroke-width="1.3"/>
<line x1="241.20" y1="304.70" x2="241.20" y2="409.40" stroke="#111" stroke-width="1.3"/>
<line x1="194.00" y1="337.20" x2="298.40" y2="337.20" stroke="#111" stroke-width="1.3"/>
<text x="198.80" y="314.96" font-size="9.1" fill="#000" stroke="#000" font-weight="normal" textLength="4.90" lengthAdjust="spacingAndGlyphs">0</text>
<text x="295.40" y="314.26" font-size="9.1" fill="#000" stroke="#000" text-anchor="end" textLength="4.90" lengthAdjust="spacingAndGlyphs">4</text>
<text x="198.00" y="404.86" font-size="9.1" fill="#000" stroke="#000" font-weight="normal" textLength="10.00" lengthAdjust="spacingAndGlyphs">89</text>
<text x="295.40" y="405.86" font-size="9.1" fill="#000" stroke="#000" text-anchor="end" textLength="4.90" lengthAdjust="spacingAndGlyphs">7</text>
<text x="31.70" y="443.61" font-size="7.28" textLength="19" lengthAdjust="spacingAndGlyphs" stroke="#000">1×10<tspan dy="-2.2" font-size="5.20">5</tspan></text>
<text x="50.70" y="467.01" font-size="7.279999999999999" fill="#000" stroke="#000" text-anchor="end" textLength="20.20" lengthAdjust="spacingAndGlyphs">10000</text>
<text x="50.70" y="491.31" font-size="7.279999999999999" fill="#000" stroke="#000" text-anchor="end" textLength="15.90" lengthAdjust="spacingAndGlyphs">1000</text>
<text x="50.70" y="516.71" font-size="7.279999999999999" fill="#000" stroke="#000" text-anchor="end" textLength="11.60" lengthAdjust="spacingAndGlyphs">100</text>
<text x="50.70" y="528.31" font-size="7.279999999999999" fill="#000" stroke="#000" text-anchor="end" textLength="4.20" lengthAdjust="spacingAndGlyphs">0</text>
<text x="65.90" y="548.81" font-size="7.279999999999999" fill="#000" stroke="#000" text-anchor="middle" font-weight="normal" textLength="4.00" lengthAdjust="spacingAndGlyphs">0</text>
<text x="78.80" y="548.81" font-size="7.279999999999999" fill="#000" stroke="#000" text-anchor="middle" font-weight="normal" textLength="12.00" lengthAdjust="spacingAndGlyphs">100</text>
<text x="103.60" y="548.81" font-size="7.279999999999999" fill="#000" stroke="#000" text-anchor="middle" font-weight="normal" textLength="15.80" lengthAdjust="spacingAndGlyphs">1000</text>
<text x="128.50" y="548.81" font-size="7.279999999999999" fill="#000" stroke="#000" text-anchor="middle" font-weight="normal" textLength="19.00" lengthAdjust="spacingAndGlyphs">10000</text>
<text x="142.20" y="548.81" font-size="7.28" textLength="19" lengthAdjust="spacingAndGlyphs" stroke="#000">1×10<tspan dy="-2.2" font-size="5.20">5</tspan></text>
<line x1="54.00" y1="488.70" x2="56.00" y2="488.70" stroke="#000" stroke-width="0.6"/>
<line x1="54.00" y1="481.38" x2="56.00" y2="481.38" stroke="#000" stroke-width="0.6"/>
<line x1="54.00" y1="477.11" x2="56.00" y2="477.11" stroke="#000" stroke-width="0.6"/>
<line x1="54.00" y1="474.07" x2="56.00" y2="474.07" stroke="#000" stroke-width="0.6"/>
<line x1="54.00" y1="471.72" x2="56.00" y2="471.72" stroke="#000" stroke-width="0.6"/>
<line x1="54.00" y1="469.79" x2="56.00" y2="469.79" stroke="#000" stroke-width="0.6"/>
<line x1="54.00" y1="468.16" x2="56.00" y2="468.16" stroke="#000" stroke-width="0.6"/>
<line x1="54.00" y1="466.75" x2="56.00" y2="466.75" stroke="#000" stroke-width="0.6"/>
<line x1="54.00" y1="465.51" x2="56.00" y2="465.51" stroke="#000" stroke-width="0.6"/>
<line x1="54.00" y1="464.40" x2="56.00" y2="464.40" stroke="#000" stroke-width="0.6"/>
<line x1="54.00" y1="457.36" x2="56.00" y2="457.36" stroke="#000" stroke-width="0.6"/>
<line x1="54.00" y1="453.24" x2="56.00" y2="453.24" stroke="#000" stroke-width="0.6"/>
<line x1="54.00" y1="450.31" x2="56.00" y2="450.31" stroke="#000" stroke-width="0.6"/>
<line x1="54.00" y1="448.04" x2="56.00" y2="448.04" stroke="#000" stroke-width="0.6"/>
<line x1="54.00" y1="446.19" x2="56.00" y2="446.19" stroke="#000" stroke-width="0.6"/>
<line x1="54.00" y1="444.62" x2="56.00" y2="444.62" stroke="#000" stroke-width="0.6"/>
<line x1="54.00" y1="443.27" x2="56.00" y2="443.27" stroke="#000" stroke-width="0.6"/>
<line x1="54.00" y1="442.07" x2="56.00" y2="442.07" stroke="#000" stroke-width="0.6"/>
<line x1="54.00" y1="514.10" x2="56.00" y2="514.10" stroke="#000" stroke-width="0.6"/>
<line x1="54.00" y1="506.45" x2="56.00" y2="506.45" stroke="#000" stroke-width="0.6"/>
<line x1="54.00" y1="501.98" x2="56.00" y2="501.98" stroke="#000" stroke-width="0.6"/>
<line x1="54.00" y1="498.81" x2="56.00" y2="498.81" stroke="#000" stroke-width="0.6"/>
<line x1="54.00" y1="496.35" x2="56.00" y2="496.35" stroke="#000" stroke-width="0.6"/>
<line x1="54.00" y1="494.33" x2="56.00" y2="494.33" stroke="#000" stroke-width="0.6"/>
<line x1="54.00" y1="492.63" x2="56.00" y2="492.63" stroke="#000" stroke-width="0.6"/>
<line x1="54.00" y1="491.16" x2="56.00" y2="491.16" stroke="#000" stroke-width="0.6"/>
<line x1="54.00" y1="489.86" x2="56.00" y2="489.86" stroke="#000" stroke-width="0.6"/>
<line x1="53.00" y1="441.00" x2="56.00" y2="441.00" stroke="#000" stroke-width="0.7"/>
<line x1="53.00" y1="464.40" x2="56.00" y2="464.40" stroke="#000" stroke-width="0.7"/>
<line x1="53.00" y1="488.70" x2="56.00" y2="488.70" stroke="#000" stroke-width="0.7"/>
<line x1="53.00" y1="514.10" x2="56.00" y2="514.10" stroke="#000" stroke-width="0.7"/>
<line x1="53.00" y1="525.70" x2="56.00" y2="525.70" stroke="#000" stroke-width="0.7"/>
<line x1="54.50" y1="518.40" x2="56.00" y2="518.40" stroke="#000" stroke-width="0.5"/>
<line x1="54.50" y1="520.40" x2="56.00" y2="520.40" stroke="#000" stroke-width="0.5"/>
<line x1="54.50" y1="522.40" x2="56.00" y2="522.40" stroke="#000" stroke-width="0.5"/>
<line x1="54.50" y1="524.40" x2="56.00" y2="524.40" stroke="#000" stroke-width="0.5"/>
<line x1="54.50" y1="526.40" x2="56.00" y2="526.40" stroke="#000" stroke-width="0.5"/>
<line x1="54.50" y1="528.40" x2="56.00" y2="528.40" stroke="#000" stroke-width="0.5"/>
<line x1="54.50" y1="530.40" x2="56.00" y2="530.40" stroke="#000" stroke-width="0.5"/>
<line x1="54.50" y1="532.40" x2="56.00" y2="532.40" stroke="#000" stroke-width="0.5"/>
<line x1="54.50" y1="534.40" x2="56.00" y2="534.40" stroke="#000" stroke-width="0.5"/>
<line x1="77.90" y1="536.40" x2="77.90" y2="538.40" stroke="#000" stroke-width="0.6"/>
<line x1="85.55" y1="536.40" x2="85.55" y2="538.40" stroke="#000" stroke-width="0.6"/>
<line x1="90.02" y1="536.40" x2="90.02" y2="538.40" stroke="#000" stroke-width="0.6"/>
<line x1="93.19" y1="536.40" x2="93.19" y2="538.40" stroke="#000" stroke-width="0.6"/>
<line x1="95.65" y1="536.40" x2="95.65" y2="538.40" stroke="#000" stroke-width="0.6"/>
<line x1="97.67" y1="536.40" x2="97.67" y2="538.40" stroke="#000" stroke-width="0.6"/>
<line x1="99.37" y1="536.40" x2="99.37" y2="538.40" stroke="#000" stroke-width="0.6"/>
<line x1="100.84" y1="536.40" x2="100.84" y2="538.40" stroke="#000" stroke-width="0.6"/>
<line x1="102.14" y1="536.40" x2="102.14" y2="538.40" stroke="#000" stroke-width="0.6"/>
<line x1="103.30" y1="536.40" x2="103.30" y2="538.40" stroke="#000" stroke-width="0.6"/>
<line x1="111.79" y1="536.40" x2="111.79" y2="538.40" stroke="#000" stroke-width="0.6"/>
<line x1="116.75" y1="536.40" x2="116.75" y2="538.40" stroke="#000" stroke-width="0.6"/>
<line x1="120.28" y1="536.40" x2="120.28" y2="538.40" stroke="#000" stroke-width="0.6"/>
<line x1="123.01" y1="536.40" x2="123.01" y2="538.40" stroke="#000" stroke-width="0.6"/>
<line x1="125.24" y1="536.40" x2="125.24" y2="538.40" stroke="#000" stroke-width="0.6"/>
<line x1="127.13" y1="536.40" x2="127.13" y2="538.40" stroke="#000" stroke-width="0.6"/>
<line x1="128.77" y1="536.40" x2="128.77" y2="538.40" stroke="#000" stroke-width="0.6"/>
<line x1="130.21" y1="536.40" x2="130.21" y2="538.40" stroke="#000" stroke-width="0.6"/>
<line x1="131.50" y1="536.40" x2="131.50" y2="538.40" stroke="#000" stroke-width="0.6"/>
<line x1="139.78" y1="536.40" x2="139.78" y2="538.40" stroke="#000" stroke-width="0.6"/>
<line x1="144.62" y1="536.40" x2="144.62" y2="538.40" stroke="#000" stroke-width="0.6"/>
<line x1="148.06" y1="536.40" x2="148.06" y2="538.40" stroke="#000" stroke-width="0.6"/>
<line x1="150.72" y1="536.40" x2="150.72" y2="538.40" stroke="#000" stroke-width="0.6"/>
<line x1="152.90" y1="536.40" x2="152.90" y2="538.40" stroke="#000" stroke-width="0.6"/>
<line x1="154.74" y1="536.40" x2="154.74" y2="538.40" stroke="#000" stroke-width="0.6"/>
<line x1="156.33" y1="536.40" x2="156.33" y2="538.40" stroke="#000" stroke-width="0.6"/>
<line x1="157.74" y1="536.40" x2="157.74" y2="538.40" stroke="#000" stroke-width="0.6"/>
<line x1="66.80" y1="536.40" x2="66.80" y2="539.40" stroke="#000" stroke-width="0.7"/>
<line x1="77.90" y1="536.40" x2="77.90" y2="539.40" stroke="#000" stroke-width="0.7"/>
<line x1="103.30" y1="536.40" x2="103.30" y2="539.40" stroke="#000" stroke-width="0.7"/>
<line x1="131.50" y1="536.40" x2="131.50" y2="539.40" stroke="#000" stroke-width="0.7"/>
<line x1="59.00" y1="536.40" x2="59.00" y2="537.90" stroke="#000" stroke-width="0.5"/>
<line x1="61.00" y1="536.40" x2="61.00" y2="537.90" stroke="#000" stroke-width="0.5"/>
<line x1="63.00" y1="536.40" x2="63.00" y2="537.90" stroke="#000" stroke-width="0.5"/>
<line x1="65.00" y1="536.40" x2="65.00" y2="537.90" stroke="#000" stroke-width="0.5"/>
<line x1="67.00" y1="536.40" x2="67.00" y2="537.90" stroke="#000" stroke-width="0.5"/>
<line x1="69.00" y1="536.40" x2="69.00" y2="537.90" stroke="#000" stroke-width="0.5"/>
<line x1="71.00" y1="536.40" x2="71.00" y2="537.90" stroke="#000" stroke-width="0.5"/>
<line x1="73.00" y1="536.40" x2="73.00" y2="537.90" stroke="#000" stroke-width="0.5"/>
<line x1="75.00" y1="536.40" x2="75.00" y2="537.90" stroke="#000" stroke-width="0.5"/>
<rect x="56.00" y="431.40" width="105.70" height="104.60" fill="none" stroke="#111" stroke-width="1.3"/>
<line x1="103.80" y1="431.40" x2="103.80" y2="536.00" stroke="#111" stroke-width="1.3"/>
<line x1="56.00" y1="464.20" x2="161.70" y2="464.20" stroke="#111" stroke-width="1.3"/>
<text x="60.80" y="441.66" font-size="9.1" fill="#000" stroke="#000" font-weight="normal" textLength="4.90" lengthAdjust="spacingAndGlyphs">1</text>
<text x="158.70" y="440.96" font-size="9.1" fill="#000" stroke="#000" text-anchor="end" textLength="4.90" lengthAdjust="spacingAndGlyphs">3</text>
<text x="60.00" y="531.46" font-size="9.1" fill="#000" stroke="#000" font-weight="normal" textLength="10.00" lengthAdjust="spacingAndGlyphs">45</text>
<text x="158.70" y="532.46" font-size="9.1" fill="#000" stroke="#000" text-anchor="end" textLength="10.00" lengthAdjust="spacingAndGlyphs">52</text>
<text x="169.60" y="443.01" font-size="7.28" textLength="19" lengthAdjust="spacingAndGlyphs" stroke="#000">1×10<tspan dy="-2.2" font-size="5.20">5</tspan></text>
<text x="188.60" y="466.41" font-size="7.279999999999999" fill="#000" stroke="#000" text-anchor="end" textLength="20.20" lengthAdjust="spacingAndGlyphs">10000</text>
<text x="188.60" y="490.71" font-size="7.279999999999999" fill="#000" stroke="#000" text-anchor="end" textLength="15.90" lengthAdjust="spacingAndGlyphs">1000</text>
<text x="188.60" y="516.11" font-size="7.279999999999999" fill="#000" stroke="#000" text-anchor="end" textLength="11.60" lengthAdjust="spacingAndGlyphs">100</text>
<text x="188.60" y="527.71" font-size="7.279999999999999" fill="#000" stroke="#000" text-anchor="end" textLength="4.20" lengthAdjust="spacingAndGlyphs">0</text>
<text x="203.80" y="548.21" font-size="7.279999999999999" fill="#000" stroke="#000" text-anchor="middle" font-weight="normal" textLength="4.00" lengthAdjust="spacingAndGlyphs">0</text>
<text x="216.70" y="548.21" font-size="7.279999999999999" fill="#000" stroke="#000" text-anchor="middle" font-weight="normal" textLength="12.00" lengthAdjust="spacingAndGlyphs">100</text>
<text x="241.50" y="548.21" font-size="7.279999999999999" fill="#000" stroke="#000" text-anchor="middle" font-weight="normal" textLength="15.80" lengthAdjust="spacingAndGlyphs">1000</text>
<text x="266.40" y="548.21" font-size="7.279999999999999" fill="#000" stroke="#000" text-anchor="middle" font-weight="normal" textLength="19.00" lengthAdjust="spacingAndGlyphs">10000</text>
<text x="280.10" y="548.21" font-size="7.28" textLength="19" lengthAdjust="spacingAndGlyphs" stroke="#000">1×10<tspan dy="-2.2" font-size="5.20">5</tspan></text>
<line x1="191.90" y1="488.10" x2="193.90" y2="488.10" stroke="#000" stroke-width="0.6"/>
<line x1="191.90" y1="480.78" x2="193.90" y2="480.78" stroke="#000" stroke-width="0.6"/>
<line x1="191.90" y1="476.51" x2="193.90" y2="476.51" stroke="#000" stroke-width="0.6"/>
<line x1="191.90" y1="473.47" x2="193.90" y2="473.47" stroke="#000" stroke-width="0.6"/>
<line x1="191.90" y1="471.12" x2="193.90" y2="471.12" stroke="#000" stroke-width="0.6"/>
<line x1="191.90" y1="469.19" x2="193.90" y2="469.19" stroke="#000" stroke-width="0.6"/>
<line x1="191.90" y1="467.56" x2="193.90" y2="467.56" stroke="#000" stroke-width="0.6"/>
<line x1="191.90" y1="466.15" x2="193.90" y2="466.15" stroke="#000" stroke-width="0.6"/>
<line x1="191.90" y1="464.91" x2="193.90" y2="464.91" stroke="#000" stroke-width="0.6"/>
<line x1="191.90" y1="463.80" x2="193.90" y2="463.80" stroke="#000" stroke-width="0.6"/>
<line x1="191.90" y1="456.76" x2="193.90" y2="456.76" stroke="#000" stroke-width="0.6"/>
<line x1="191.90" y1="452.64" x2="193.90" y2="452.64" stroke="#000" stroke-width="0.6"/>
<line x1="191.90" y1="449.71" x2="193.90" y2="449.71" stroke="#000" stroke-width="0.6"/>
<line x1="191.90" y1="447.44" x2="193.90" y2="447.44" stroke="#000" stroke-width="0.6"/>
<line x1="191.90" y1="445.59" x2="193.90" y2="445.59" stroke="#000" stroke-width="0.6"/>
<line x1="191.90" y1="444.02" x2="193.90" y2="444.02" stroke="#000" stroke-width="0.6"/>
<line x1="191.90" y1="442.67" x2="193.90" y2="442.67" stroke="#000" stroke-width="0.6"/>
<line x1="191.90" y1="441.47" x2="193.90" y2="441.47" stroke="#000" stroke-width="0.6"/>
<line x1="191.90" y1="513.50" x2="193.90" y2="513.50" stroke="#000" stroke-width="0.6"/>
<line x1="191.90" y1="505.85" x2="193.90" y2="505.85" stroke="#000" stroke-width="0.6"/>
<line x1="191.90" y1="501.38" x2="193.90" y2="501.38" stroke="#000" stroke-width="0.6"/>
<line x1="191.90" y1="498.21" x2="193.90" y2="498.21" stroke="#000" stroke-width="0.6"/>
<line x1="191.90" y1="495.75" x2="193.90" y2="495.75" stroke="#000" stroke-width="0.6"/>
<line x1="191.90" y1="493.73" x2="193.90" y2="493.73" stroke="#000" stroke-width="0.6"/>
<line x1="191.90" y1="492.03" x2="193.90" y2="492.03" stroke="#000" stroke-width="0.6"/>
<line x1="191.90" y1="490.56" x2="193.90" y2="490.56" stroke="#000" stroke-width="0.6"/>
<line x1="191.90" y1="489.26" x2="193.90" y2="489.26" stroke="#000" stroke-width="0.6"/>
<line x1="190.90" y1="440.40" x2="193.90" y2="440.40" stroke="#000" stroke-width="0.7"/>
<line x1="190.90" y1="463.80" x2="193.90" y2="463.80" stroke="#000" stroke-width="0.7"/>
<line x1="190.90" y1="488.10" x2="193.90" y2="488.10" stroke="#000" stroke-width="0.7"/>
<line x1="190.90" y1="513.50" x2="193.90" y2="513.50" stroke="#000" stroke-width="0.7"/>
<line x1="190.90" y1="525.10" x2="193.90" y2="525.10" stroke="#000" stroke-width="0.7"/>
<line x1="192.40" y1="517.80" x2="193.90" y2="517.80" stroke="#000" stroke-width="0.5"/>
<line x1="192.40" y1="519.80" x2="193.90" y2="519.80" stroke="#000" stroke-width="0.5"/>
<line x1="192.40" y1="521.80" x2="193.90" y2="521.80" stroke="#000" stroke-width="0.5"/>
<line x1="192.40" y1="523.80" x2="193.90" y2="523.80" stroke="#000" stroke-width="0.5"/>
<line x1="192.40" y1="525.80" x2="193.90" y2="525.80" stroke="#000" stroke-width="0.5"/>
<line x1="192.40" y1="527.80" x2="193.90" y2="527.80" stroke="#000" stroke-width="0.5"/>
<line x1="192.40" y1="529.80" x2="193.90" y2="529.80" stroke="#000" stroke-width="0.5"/>
<line x1="192.40" y1="531.80" x2="193.90" y2="531.80" stroke="#000" stroke-width="0.5"/>
<line x1="192.40" y1="533.80" x2="193.90" y2="533.80" stroke="#000" stroke-width="0.5"/>
<line x1="215.80" y1="535.80" x2="215.80" y2="537.80" stroke="#000" stroke-width="0.6"/>
<line x1="223.45" y1="535.80" x2="223.45" y2="537.80" stroke="#000" stroke-width="0.6"/>
<line x1="227.92" y1="535.80" x2="227.92" y2="537.80" stroke="#000" stroke-width="0.6"/>
<line x1="231.09" y1="535.80" x2="231.09" y2="537.80" stroke="#000" stroke-width="0.6"/>
<line x1="233.55" y1="535.80" x2="233.55" y2="537.80" stroke="#000" stroke-width="0.6"/>
<line x1="235.57" y1="535.80" x2="235.57" y2="537.80" stroke="#000" stroke-width="0.6"/>
<line x1="237.27" y1="535.80" x2="237.27" y2="537.80" stroke="#000" stroke-width="0.6"/>
<line x1="238.74" y1="535.80" x2="238.74" y2="537.80" stroke="#000" stroke-width="0.6"/>
<line x1="240.04" y1="535.80" x2="240.04" y2="537.80" stroke="#000" stroke-width="0.6"/>
<line x1="241.20" y1="535.80" x2="241.20" y2="537.80" stroke="#000" stroke-width="0.6"/>
<line x1="249.69" y1="535.80" x2="249.69" y2="537.80" stroke="#000" stroke-width="0.6"/>
<line x1="254.65" y1="535.80" x2="254.65" y2="537.80" stroke="#000" stroke-width="0.6"/>
<line x1="258.18" y1="535.80" x2="258.18" y2="537.80" stroke="#000" stroke-width="0.6"/>
<line x1="260.91" y1="535.80" x2="260.91" y2="537.80" stroke="#000" stroke-width="0.6"/>
<line x1="263.14" y1="535.80" x2="263.14" y2="537.80" stroke="#000" stroke-width="0.6"/>
<line x1="265.03" y1="535.80" x2="265.03" y2="537.80" stroke="#000" stroke-width="0.6"/>
<line x1="266.67" y1="535.80" x2="266.67" y2="537.80" stroke="#000" stroke-width="0.6"/>
<line x1="268.11" y1="535.80" x2="268.11" y2="537.80" stroke="#000" stroke-width="0.6"/>
<line x1="269.40" y1="535.80" x2="269.40" y2="537.80" stroke="#000" stroke-width="0.6"/>
<line x1="277.68" y1="535.80" x2="277.68" y2="537.80" stroke="#000" stroke-width="0.6"/>
<line x1="282.52" y1="535.80" x2="282.52" y2="537.80" stroke="#000" stroke-width="0.6"/>
<line x1="285.96" y1="535.80" x2="285.96" y2="537.80" stroke="#000" stroke-width="0.6"/>
<line x1="288.62" y1="535.80" x2="288.62" y2="537.80" stroke="#000" stroke-width="0.6"/>
<line x1="290.80" y1="535.80" x2="290.80" y2="537.80" stroke="#000" stroke-width="0.6"/>
<line x1="292.64" y1="535.80" x2="292.64" y2="537.80" stroke="#000" stroke-width="0.6"/>
<line x1="294.23" y1="535.80" x2="294.23" y2="537.80" stroke="#000" stroke-width="0.6"/>
<line x1="295.64" y1="535.80" x2="295.64" y2="537.80" stroke="#000" stroke-width="0.6"/>
<line x1="204.70" y1="535.80" x2="204.70" y2="538.80" stroke="#000" stroke-width="0.7"/>
<line x1="215.80" y1="535.80" x2="215.80" y2="538.80" stroke="#000" stroke-width="0.7"/>
<line x1="241.20" y1="535.80" x2="241.20" y2="538.80" stroke="#000" stroke-width="0.7"/>
<line x1="269.40" y1="535.80" x2="269.40" y2="538.80" stroke="#000" stroke-width="0.7"/>
<line x1="196.90" y1="535.80" x2="196.90" y2="537.30" stroke="#000" stroke-width="0.5"/>
<line x1="198.90" y1="535.80" x2="198.90" y2="537.30" stroke="#000" stroke-width="0.5"/>
<line x1="200.90" y1="535.80" x2="200.90" y2="537.30" stroke="#000" stroke-width="0.5"/>
<line x1="202.90" y1="535.80" x2="202.90" y2="537.30" stroke="#000" stroke-width="0.5"/>
<line x1="204.90" y1="535.80" x2="204.90" y2="537.30" stroke="#000" stroke-width="0.5"/>
<line x1="206.90" y1="535.80" x2="206.90" y2="537.30" stroke="#000" stroke-width="0.5"/>
<line x1="208.90" y1="535.80" x2="208.90" y2="537.30" stroke="#000" stroke-width="0.5"/>
<line x1="210.90" y1="535.80" x2="210.90" y2="537.30" stroke="#000" stroke-width="0.5"/>
<line x1="212.90" y1="535.80" x2="212.90" y2="537.30" stroke="#000" stroke-width="0.5"/>
<rect x="193.90" y="430.80" width="105.30" height="104.70" fill="none" stroke="#111" stroke-width="1.3"/>
<line x1="241.80" y1="430.80" x2="241.80" y2="535.50" stroke="#111" stroke-width="1.3"/>
<line x1="193.90" y1="463.80" x2="299.20" y2="463.80" stroke="#111" stroke-width="1.3"/>
<text x="198.70" y="441.06" font-size="9.1" fill="#000" stroke="#000" font-weight="normal" textLength="4.90" lengthAdjust="spacingAndGlyphs">0</text>
<text x="296.20" y="440.36" font-size="9.1" fill="#000" stroke="#000" text-anchor="end" textLength="4.90" lengthAdjust="spacingAndGlyphs">2</text>
<text x="197.90" y="530.96" font-size="9.1" fill="#000" stroke="#000" font-weight="normal" textLength="10.00" lengthAdjust="spacingAndGlyphs">72</text>
<text x="296.20" y="531.96" font-size="9.1" fill="#000" stroke="#000" text-anchor="end" textLength="10.00" lengthAdjust="spacingAndGlyphs">26</text>
<text x="320.50" y="299.50" font-size="12.0" font-weight="bold" fill="#000" stroke="#000" stroke-width="0.3">N</text>
<line x1="372.50" y1="308.50" x2="372.50" y2="381.60" stroke="#000" stroke-width="0.9"/>
<line x1="372.10" y1="381.20" x2="459.70" y2="381.20" stroke="#000" stroke-width="0.9"/>
<line x1="369.30" y1="320.00" x2="372.50" y2="320.00" stroke="#000" stroke-width="0.8"/>
<text x="357.10" y="323.30" font-size="9.23" fill="#000" stroke="#000" font-weight="normal" textLength="10.90" lengthAdjust="spacingAndGlyphs">1.0</text>
<line x1="369.30" y1="350.60" x2="372.50" y2="350.60" stroke="#000" stroke-width="0.8"/>
<text x="357.10" y="353.90" font-size="9.23" fill="#000" stroke="#000" font-weight="normal" textLength="10.90" lengthAdjust="spacingAndGlyphs">0.5</text>
<line x1="369.30" y1="381.20" x2="372.50" y2="381.20" stroke="#000" stroke-width="0.8"/>
<text x="357.10" y="384.50" font-size="9.23" fill="#000" stroke="#000" font-weight="normal" textLength="10.90" lengthAdjust="spacingAndGlyphs">0.0</text>
<line x1="380.90" y1="381.20" x2="380.90" y2="384.20" stroke="#000" stroke-width="0.8"/>
<line x1="398.55" y1="381.20" x2="398.55" y2="384.20" stroke="#000" stroke-width="0.8"/>
<line x1="416.20" y1="381.20" x2="416.20" y2="384.20" stroke="#000" stroke-width="0.8"/>
<line x1="433.85" y1="381.20" x2="433.85" y2="384.20" stroke="#000" stroke-width="0.8"/>
<line x1="451.50" y1="381.20" x2="451.50" y2="384.20" stroke="#000" stroke-width="0.8"/>
<line x1="372.50" y1="387.70" x2="372.50" y2="461.00" stroke="#000" stroke-width="0.9"/>
<line x1="372.10" y1="460.60" x2="460.00" y2="460.60" stroke="#000" stroke-width="0.9"/>
<line x1="369.30" y1="399.40" x2="372.50" y2="399.40" stroke="#000" stroke-width="0.8"/>
<text x="357.10" y="402.70" font-size="9.23" fill="#000" stroke="#000" font-weight="normal" textLength="10.90" lengthAdjust="spacingAndGlyphs">1.0</text>
<line x1="369.30" y1="430.00" x2="372.50" y2="430.00" stroke="#000" stroke-width="0.8"/>
<text x="357.10" y="433.30" font-size="9.23" fill="#000" stroke="#000" font-weight="normal" textLength="10.90" lengthAdjust="spacingAndGlyphs">0.5</text>
<line x1="369.30" y1="460.60" x2="372.50" y2="460.60" stroke="#000" stroke-width="0.8"/>
<text x="357.10" y="463.90" font-size="9.23" fill="#000" stroke="#000" font-weight="normal" textLength="10.90" lengthAdjust="spacingAndGlyphs">0.0</text>
<line x1="380.90" y1="460.60" x2="380.90" y2="463.60" stroke="#000" stroke-width="0.8"/>
<text x="380.90" y="473.30" font-size="9.23" fill="#000" stroke="#000" text-anchor="middle" font-weight="normal" textLength="4.00" lengthAdjust="spacingAndGlyphs">0</text>
<line x1="398.55" y1="460.60" x2="398.55" y2="463.60" stroke="#000" stroke-width="0.8"/>
<text x="398.55" y="473.30" font-size="9.23" fill="#000" stroke="#000" text-anchor="middle" font-weight="normal" textLength="4.00" lengthAdjust="spacingAndGlyphs">2</text>
<line x1="416.20" y1="460.60" x2="416.20" y2="463.60" stroke="#000" stroke-width="0.8"/>
<text x="416.20" y="473.30" font-size="9.23" fill="#000" stroke="#000" text-anchor="middle" font-weight="normal" textLength="4.00" lengthAdjust="spacingAndGlyphs">4</text>
<line x1="433.85" y1="460.60" x2="433.85" y2="463.60" stroke="#000" stroke-width="0.8"/>
<text x="433.85" y="473.30" font-size="9.23" fill="#000" stroke="#000" text-anchor="middle" font-weight="normal" textLength="4.00" lengthAdjust="spacingAndGlyphs">6</text>
<line x1="451.50" y1="460.60" x2="451.50" y2="463.60" stroke="#000" stroke-width="0.8"/>
<text x="451.50" y="473.30" font-size="9.23" fill="#000" stroke="#000" text-anchor="middle" font-weight="normal" textLength="4.00" lengthAdjust="spacingAndGlyphs">8</text>
<text x="416.10" y="312.54" font-size="9.879999999999999" fill="#000" stroke="#000" text-anchor="middle" font-weight="normal" textLength="33.80" lengthAdjust="spacingAndGlyphs">sgAAVS1</text>
<text x="416.60" y="399.34" font-size="9.879999999999999" fill="#000" stroke="#000" text-anchor="middle" font-weight="normal" textLength="30.80" lengthAdjust="spacingAndGlyphs">sgCDK2</text>
<text x="370.80" y="486.05" font-size="9.360000000000001" fill="#000" stroke="#000" font-weight="normal" textLength="91.40" lengthAdjust="spacingAndGlyphs">Palbociclib treatment (days)</text>
<text transform="translate(336.80,386.20) rotate(-90)" x="0" y="3.35" font-size="9.360000000000001" fill="#000" stroke="#000" text-anchor="middle" textLength="154.00" lengthAdjust="spacingAndGlyphs">Ratio of cell numbers: sgRNA-GFP(+) vs GFP(-)</text>
<text transform="translate(349.00,385.50) rotate(-90)" x="0" y="3.35" font-size="9.360000000000001" fill="#000" stroke="#000" text-anchor="middle" textLength="71.00" lengthAdjust="spacingAndGlyphs">(normalized at day 0)</text>
<polyline points="380.90,320.00 398.55,321.22 416.20,323.06 433.85,321.22 451.50,321.84" fill="none" stroke="#1b5693" stroke-width="1.35" stroke-linejoin="round"/>
<rect x="379.30" y="318.40" width="3.20" height="3.20" fill="#1b5693"/>
<rect x="396.95" y="319.62" width="3.20" height="3.20" fill="#1b5693"/>
<rect x="414.60" y="321.46" width="3.20" height="3.20" fill="#1b5693"/>
<rect x="432.25" y="319.62" width="3.20" height="3.20" fill="#1b5693"/>
<rect x="449.90" y="320.24" width="3.20" height="3.20" fill="#1b5693"/>
<polyline points="380.90,320.00 398.55,321.22 416.20,321.84 433.85,322.45 451.50,322.45" fill="none" stroke="#d2153f" stroke-width="1.35" stroke-linejoin="round"/>
<circle cx="380.90" cy="320.00" r="1.60" fill="#d2153f"/>
<circle cx="398.55" cy="321.22" r="1.60" fill="#d2153f"/>
<circle cx="416.20" cy="321.84" r="1.60" fill="#d2153f"/>
<circle cx="433.85" cy="322.45" r="1.60" fill="#d2153f"/>
<circle cx="451.50" cy="322.45" r="1.60" fill="#d2153f"/>
<polyline points="380.90,399.40 398.55,407.36 416.20,408.58 433.85,407.36 451.50,408.58" fill="none" stroke="#d2153f" stroke-width="1.35" stroke-linejoin="round"/>
<circle cx="380.90" cy="399.40" r="1.60" fill="#d2153f"/>
<circle cx="398.55" cy="407.36" r="1.60" fill="#d2153f"/>
<circle cx="416.20" cy="408.58" r="1.60" fill="#d2153f"/>
<circle cx="433.85" cy="407.36" r="1.60" fill="#d2153f"/>
<circle cx="451.50" cy="408.58" r="1.60" fill="#d2153f"/>
<polyline points="380.90,399.40 398.55,412.86 416.20,430.00 433.85,436.12 451.50,445.91" fill="none" stroke="#1b5693" stroke-width="1.35" stroke-linejoin="round"/>
<rect x="379.30" y="397.80" width="3.20" height="3.20" fill="#1b5693"/>
<rect x="396.95" y="411.26" width="3.20" height="3.20" fill="#1b5693"/>
<rect x="414.60" y="428.40" width="3.20" height="3.20" fill="#1b5693"/>
<rect x="432.25" y="434.52" width="3.20" height="3.20" fill="#1b5693"/>
<rect x="449.90" y="444.31" width="3.20" height="3.20" fill="#1b5693"/>
<line x1="416.20" y1="426.94" x2="416.20" y2="433.06" stroke="#1b5693" stroke-width="0.7"/>
<line x1="414.90" y1="426.94" x2="417.50" y2="426.94" stroke="#1b5693" stroke-width="0.7"/>
<line x1="414.90" y1="433.06" x2="417.50" y2="433.06" stroke="#1b5693" stroke-width="0.7"/>
<line x1="450.20" y1="407.36" x2="452.80" y2="407.36" stroke="#d2153f" stroke-width="0.7"/>
<text x="479.20" y="326.36" font-size="9.1" fill="#000" stroke="#000" text-anchor="middle" font-weight="normal" textLength="14.00" lengthAdjust="spacingAndGlyphs">KK1</text>
<text x="456.00" y="334.96" font-size="9.1" fill="#000" stroke="#000" font-weight="normal" textLength="46.70" lengthAdjust="spacingAndGlyphs">mutated TP53</text>
<line x1="453.00" y1="351.00" x2="462.70" y2="351.00" stroke="#d2153f" stroke-width="1.3"/>
<circle cx="457.80" cy="351.00" r="1.60" fill="#d2153f"/>
<text x="465.20" y="354.26" font-size="9.1" fill="#000" stroke="#000" font-weight="normal" textLength="22.50" lengthAdjust="spacingAndGlyphs">DMSO</text>
<line x1="453.00" y1="359.60" x2="462.70" y2="359.60" stroke="#1b5693" stroke-width="1.3"/>
<rect x="456.20" y="358.00" width="3.20" height="3.20" fill="#1b5693"/>
<text x="465.20" y="362.86" font-size="9.1" fill="#000" stroke="#000" font-weight="normal" textLength="35.60" lengthAdjust="spacingAndGlyphs">Palbociclib</text>
<circle cx="324.8" cy="498.1" r="3.45" fill="none" stroke="#000" stroke-width="1.75"/>
<line x1="375.50" y1="507.70" x2="375.50" y2="580.80" stroke="#000" stroke-width="0.9"/>
<line x1="375.10" y1="580.40" x2="463.30" y2="580.40" stroke="#000" stroke-width="0.9"/>
<line x1="372.30" y1="519.70" x2="375.50" y2="519.70" stroke="#000" stroke-width="0.8"/>
<text x="359.60" y="523.00" font-size="9.23" fill="#000" stroke="#000" font-weight="normal" textLength="10.90" lengthAdjust="spacingAndGlyphs">1.0</text>
<line x1="372.30" y1="550.05" x2="375.50" y2="550.05" stroke="#000" stroke-width="0.8"/>
<text x="359.60" y="553.35" font-size="9.23" fill="#000" stroke="#000" font-weight="normal" textLength="10.90" lengthAdjust="spacingAndGlyphs">0.5</text>
<line x1="372.30" y1="580.40" x2="375.50" y2="580.40" stroke="#000" stroke-width="0.8"/>
<text x="359.60" y="583.70" font-size="9.23" fill="#000" stroke="#000" font-weight="normal" textLength="10.90" lengthAdjust="spacingAndGlyphs">0.0</text>
<line x1="384.30" y1="580.40" x2="384.30" y2="583.40" stroke="#000" stroke-width="0.8"/>
<line x1="401.90" y1="580.40" x2="401.90" y2="583.40" stroke="#000" stroke-width="0.8"/>
<line x1="419.50" y1="580.40" x2="419.50" y2="583.40" stroke="#000" stroke-width="0.8"/>
<line x1="437.10" y1="580.40" x2="437.10" y2="583.40" stroke="#000" stroke-width="0.8"/>
<line x1="454.70" y1="580.40" x2="454.70" y2="583.40" stroke="#000" stroke-width="0.8"/>
<line x1="375.50" y1="585.00" x2="375.50" y2="658.20" stroke="#000" stroke-width="0.9"/>
<line x1="375.10" y1="657.80" x2="463.80" y2="657.80" stroke="#000" stroke-width="0.9"/>
<line x1="372.30" y1="596.80" x2="375.50" y2="596.80" stroke="#000" stroke-width="0.8"/>
<text x="359.60" y="600.10" font-size="9.23" fill="#000" stroke="#000" font-weight="normal" textLength="10.90" lengthAdjust="spacingAndGlyphs">1.0</text>
<line x1="372.30" y1="627.30" x2="375.50" y2="627.30" stroke="#000" stroke-width="0.8"/>
<text x="359.60" y="630.60" font-size="9.23" fill="#000" stroke="#000" font-weight="normal" textLength="10.90" lengthAdjust="spacingAndGlyphs">0.5</text>
<line x1="372.30" y1="657.80" x2="375.50" y2="657.80" stroke="#000" stroke-width="0.8"/>
<text x="359.60" y="661.10" font-size="9.23" fill="#000" stroke="#000" font-weight="normal" textLength="10.90" lengthAdjust="spacingAndGlyphs">0.0</text>
<line x1="384.30" y1="657.80" x2="384.30" y2="660.80" stroke="#000" stroke-width="0.8"/>
<text x="384.30" y="670.50" font-size="9.23" fill="#000" stroke="#000" text-anchor="middle" font-weight="normal" textLength="4.00" lengthAdjust="spacingAndGlyphs">0</text>
<line x1="401.90" y1="657.80" x2="401.90" y2="660.80" stroke="#000" stroke-width="0.8"/>
<text x="401.90" y="670.50" font-size="9.23" fill="#000" stroke="#000" text-anchor="middle" font-weight="normal" textLength="4.00" lengthAdjust="spacingAndGlyphs">2</text>
<line x1="419.50" y1="657.80" x2="419.50" y2="660.80" stroke="#000" stroke-width="0.8"/>
<text x="419.50" y="670.50" font-size="9.23" fill="#000" stroke="#000" text-anchor="middle" font-weight="normal" textLength="4.00" lengthAdjust="spacingAndGlyphs">4</text>
<line x1="437.10" y1="657.80" x2="437.10" y2="660.80" stroke="#000" stroke-width="0.8"/>
<text x="437.10" y="670.50" font-size="9.23" fill="#000" stroke="#000" text-anchor="middle" font-weight="normal" textLength="4.00" lengthAdjust="spacingAndGlyphs">6</text>
<line x1="454.70" y1="657.80" x2="454.70" y2="660.80" stroke="#000" stroke-width="0.8"/>
<text x="454.70" y="670.50" font-size="9.23" fill="#000" stroke="#000" text-anchor="middle" font-weight="normal" textLength="4.00" lengthAdjust="spacingAndGlyphs">8</text>
<text x="418.00" y="507.44" font-size="9.879999999999999" fill="#000" stroke="#000" text-anchor="middle" font-weight="normal" textLength="33.80" lengthAdjust="spacingAndGlyphs">sgAAVS1</text>
<text x="402.70" y="597.44" font-size="9.879999999999999" fill="#000" stroke="#000" font-weight="normal" textLength="30.70" lengthAdjust="spacingAndGlyphs">sgCDK2</text>
<text x="373.80" y="683.95" font-size="9.360000000000001" fill="#000" stroke="#000" font-weight="normal" textLength="92.40" lengthAdjust="spacingAndGlyphs">Palbociclib treatment (days)</text>
<text transform="translate(337.30,589.40) rotate(-90)" x="0" y="3.35" font-size="9.360000000000001" fill="#000" stroke="#000" text-anchor="middle" textLength="154.00" lengthAdjust="spacingAndGlyphs">Ratio of cell numbers: sgRNA-GFP(+) vs GFP(-)</text>
<text transform="translate(349.00,589.40) rotate(-90)" x="0" y="3.35" font-size="9.360000000000001" fill="#000" stroke="#000" text-anchor="middle" textLength="72.00" lengthAdjust="spacingAndGlyphs">(normalized at day 0)</text>
<polyline points="384.30,519.70 401.90,521.52 419.50,519.70 437.10,522.13 454.70,525.16" fill="none" stroke="#1b5693" stroke-width="1.35" stroke-linejoin="round"/>
<circle cx="384.30" cy="519.70" r="1.60" fill="#1b5693"/>
<circle cx="401.90" cy="521.52" r="1.60" fill="#1b5693"/>
<circle cx="419.50" cy="519.70" r="1.60" fill="#1b5693"/>
<circle cx="437.10" cy="522.13" r="1.60" fill="#1b5693"/>
<circle cx="454.70" cy="525.16" r="1.60" fill="#1b5693"/>
<polyline points="384.30,519.70 401.90,518.49 419.50,518.49 437.10,519.09 454.70,522.13" fill="none" stroke="#4c1a80" stroke-width="1.35" stroke-linejoin="round"/>
<path d="M384.30,517.78 L386.06,520.98 L382.54,520.98Z" fill="#4c1a80"/>
<path d="M401.90,516.57 L403.66,519.77 L400.14,519.77Z" fill="#4c1a80"/>
<path d="M419.50,516.57 L421.26,519.77 L417.74,519.77Z" fill="#4c1a80"/>
<path d="M437.10,517.17 L438.86,520.37 L435.34,520.37Z" fill="#4c1a80"/>
<path d="M454.70,520.21 L456.46,523.41 L452.94,523.41Z" fill="#4c1a80"/>
<polyline points="384.30,519.70 401.90,520.91 419.50,514.24 437.10,517.88 454.70,513.93" fill="none" stroke="#d2153f" stroke-width="1.35" stroke-linejoin="round"/>
<rect x="382.70" y="518.10" width="3.20" height="3.20" fill="#d2153f"/>
<rect x="400.30" y="519.31" width="3.20" height="3.20" fill="#d2153f"/>
<rect x="417.90" y="512.64" width="3.20" height="3.20" fill="#d2153f"/>
<rect x="435.50" y="516.28" width="3.20" height="3.20" fill="#d2153f"/>
<rect x="453.10" y="512.33" width="3.20" height="3.20" fill="#d2153f"/>
<polyline points="384.30,519.70 401.90,521.52 419.50,516.67 437.10,517.88 454.70,517.27" fill="none" stroke="#3dba4a" stroke-width="1.35" stroke-linejoin="round"/>
<circle cx="384.30" cy="519.70" r="1.60" fill="#3dba4a"/>
<circle cx="401.90" cy="521.52" r="1.60" fill="#3dba4a"/>
<circle cx="419.50" cy="516.67" r="1.60" fill="#3dba4a"/>
<circle cx="437.10" cy="517.88" r="1.60" fill="#3dba4a"/>
<circle cx="454.70" cy="517.27" r="1.60" fill="#3dba4a"/>
<polyline points="384.30,596.80 401.90,609.00 419.50,634.01 437.10,643.77 454.70,650.78" fill="none" stroke="#1b5693" stroke-width="1.35" stroke-linejoin="round"/>
<circle cx="384.30" cy="596.80" r="1.60" fill="#1b5693"/>
<circle cx="401.90" cy="609.00" r="1.60" fill="#1b5693"/>
<circle cx="419.50" cy="634.01" r="1.60" fill="#1b5693"/>
<circle cx="437.10" cy="643.77" r="1.60" fill="#1b5693"/>
<circle cx="454.70" cy="650.78" r="1.60" fill="#1b5693"/>
<polyline points="384.30,596.80 401.90,608.39 419.50,625.47 437.10,637.67 454.70,644.99" fill="none" stroke="#4c1a80" stroke-width="1.35" stroke-linejoin="round"/>
<path d="M384.30,594.88 L386.06,598.08 L382.54,598.08Z" fill="#4c1a80"/>
<path d="M401.90,606.47 L403.66,609.67 L400.14,609.67Z" fill="#4c1a80"/>
<path d="M419.50,623.55 L421.26,626.75 L417.74,626.75Z" fill="#4c1a80"/>
<path d="M437.10,635.75 L438.86,638.95 L435.34,638.95Z" fill="#4c1a80"/>
<path d="M454.70,643.07 L456.46,646.27 L452.94,646.27Z" fill="#4c1a80"/>
<polyline points="384.30,596.80 401.90,605.95 419.50,607.78 437.10,613.27 454.70,615.71" fill="none" stroke="#d2153f" stroke-width="1.35" stroke-linejoin="round"/>
<rect x="382.70" y="595.20" width="3.20" height="3.20" fill="#d2153f"/>
<rect x="400.30" y="604.35" width="3.20" height="3.20" fill="#d2153f"/>
<rect x="417.90" y="606.18" width="3.20" height="3.20" fill="#d2153f"/>
<rect x="435.50" y="611.67" width="3.20" height="3.20" fill="#d2153f"/>
<rect x="453.10" y="614.11" width="3.20" height="3.20" fill="#d2153f"/>
<polyline points="384.30,596.80 401.90,605.95 419.50,608.39 437.10,614.49 454.70,615.40" fill="none" stroke="#3dba4a" stroke-width="1.35" stroke-linejoin="round"/>
<circle cx="384.30" cy="596.80" r="1.60" fill="#3dba4a"/>
<circle cx="401.90" cy="605.95" r="1.60" fill="#3dba4a"/>
<circle cx="419.50" cy="608.39" r="1.60" fill="#3dba4a"/>
<circle cx="437.10" cy="614.49" r="1.60" fill="#3dba4a"/>
<circle cx="454.70" cy="615.40" r="1.60" fill="#3dba4a"/>
<line x1="461.10" y1="643.20" x2="461.10" y2="653.80" stroke="#444" stroke-width="1.6"/>
<circle cx="465.10" cy="648.40" r="1.10" fill="#111"/>
<circle cx="469.90" cy="648.40" r="1.10" fill="#111"/>
<text x="483.80" y="527.67" font-size="8.58" fill="#000" stroke="#000" text-anchor="middle" font-weight="normal" textLength="7.50" lengthAdjust="spacingAndGlyphs">sg</text>
<text x="483.50" y="536.77" font-size="8.58" fill="#000" stroke="#000" text-anchor="middle" font-weight="normal" textLength="20.00" lengthAdjust="spacingAndGlyphs">AAVS1</text>
<text x="482.50" y="544.97" font-size="8.58" fill="#000" stroke="#000" text-anchor="middle" font-weight="normal" textLength="15.00" lengthAdjust="spacingAndGlyphs">-ST1</text>
<text x="504.60" y="527.67" font-size="8.58" fill="#000" stroke="#000" text-anchor="middle" font-weight="normal" textLength="7.50" lengthAdjust="spacingAndGlyphs">sg</text>
<text x="504.60" y="536.77" font-size="8.58" fill="#000" stroke="#000" text-anchor="middle" font-weight="normal" textLength="16.50" lengthAdjust="spacingAndGlyphs">TP53</text>
<text x="504.60" y="544.97" font-size="8.58" fill="#000" stroke="#000" text-anchor="middle" font-weight="normal" textLength="15.00" lengthAdjust="spacingAndGlyphs">-ST1</text>
<text x="475.80" y="560.17" font-size="8.58" fill="#000" stroke="#000" text-anchor="end" textLength="21.50" lengthAdjust="spacingAndGlyphs">DMSO</text>
<text x="475.80" y="570.37" font-size="8.58" fill="#000" stroke="#000" text-anchor="end" textLength="35.00" lengthAdjust="spacingAndGlyphs">Palbociclib</text>
<line x1="478.20" y1="557.10" x2="488.60" y2="557.10" stroke="#3dba4a" stroke-width="1.3"/>
<circle cx="483.40" cy="557.10" r="1.60" fill="#3dba4a"/>
<line x1="499.30" y1="557.10" x2="509.70" y2="557.10" stroke="#d2153f" stroke-width="1.3"/>
<rect x="502.90" y="555.50" width="3.20" height="3.20" fill="#d2153f"/>
<line x1="478.20" y1="567.30" x2="488.60" y2="567.30" stroke="#4c1a80" stroke-width="1.3"/>
<path d="M483.40,565.38 L485.16,568.58 L481.64,568.58Z" fill="#4c1a80"/>
<line x1="499.30" y1="567.30" x2="509.70" y2="567.30" stroke="#1b5693" stroke-width="1.3"/>
<path d="M504.50,569.22 L506.26,566.02 L502.74,566.02Z" fill="#1b5693"/>
<text x="7.00" y="579.50" font-size="12.0" font-weight="bold" fill="#000" stroke="#000" stroke-width="0.3">L</text>
<text x="65.50" y="590.26" font-size="9.1" fill="#000" stroke="#000" text-anchor="middle" font-weight="normal" textLength="13.50" lengthAdjust="spacingAndGlyphs">ST1</text>
<line x1="48.75" y1="592.50" x2="83.75" y2="592.50" stroke="#000" stroke-width="0.9"/>
<text x="12.00" y="615.26" font-size="9.1" fill="#000" stroke="#000" font-weight="normal" textLength="25.00" lengthAdjust="spacingAndGlyphs">sgRNA</text>
<text x="12.00" y="624.56" font-size="9.1" fill="#000" stroke="#000" font-weight="normal" textLength="25.00" lengthAdjust="spacingAndGlyphs">vector:</text>
<text transform="translate(55.00,623.40) rotate(-90)" x="0" y="3.72" font-size="10.4" fill="#000" stroke="#000" text-anchor="middle" textLength="25.80" lengthAdjust="spacingAndGlyphs">sgCTRL</text>
<text transform="translate(67.50,616.15) rotate(-90)" x="0" y="3.72" font-size="10.4" fill="#000" stroke="#000" text-anchor="middle" textLength="40.30" lengthAdjust="spacingAndGlyphs">sgCDK6 #1</text>
<text transform="translate(81.25,616.15) rotate(-90)" x="0" y="3.72" font-size="10.4" fill="#000" stroke="#000" text-anchor="middle" textLength="40.30" lengthAdjust="spacingAndGlyphs">sgCDK6 #2</text>
<text x="43.20" y="650.76" font-size="9.1" fill="#000" stroke="#000" text-anchor="end" textLength="12.50" lengthAdjust="spacingAndGlyphs">p21</text>
<text x="43.20" y="667.76" font-size="9.1" fill="#000" stroke="#000" text-anchor="end" textLength="12.50" lengthAdjust="spacingAndGlyphs">p27</text>
<text x="15.50" y="684.56" font-size="9.1" fill="#000" stroke="#000" font-weight="normal" textLength="28.20" lengthAdjust="spacingAndGlyphs">GAPDH</text>
<text x="116.00" y="579.20" font-size="12.0" font-weight="bold" fill="#000" stroke="#000" stroke-width="0.3">M</text>
<text transform="translate(166.60,599.95) rotate(-90)" x="0" y="3.72" font-size="10.4" fill="#000" stroke="#000" text-anchor="middle" textLength="9.90" lengthAdjust="spacingAndGlyphs">ST1</text>
<text transform="translate(193.00,591.90) rotate(-90)" x="0" y="3.72" font-size="10.4" fill="#000" stroke="#000" text-anchor="middle" textLength="26.00" lengthAdjust="spacingAndGlyphs">Su9T01</text>
<text transform="translate(219.50,598.05) rotate(-90)" x="0" y="3.72" font-size="10.4" fill="#000" stroke="#000" text-anchor="middle" textLength="13.70" lengthAdjust="spacingAndGlyphs">KK1</text>
<text transform="translate(246.10,591.15) rotate(-90)" x="0" y="3.72" font-size="10.4" fill="#000" stroke="#000" text-anchor="middle" textLength="27.50" lengthAdjust="spacingAndGlyphs">TL-Om1</text>
<text transform="translate(273.00,585.45) rotate(-90)" x="0" y="3.72" font-size="10.4" fill="#000" stroke="#000" text-anchor="middle" textLength="38.90" lengthAdjust="spacingAndGlyphs">ED40515(-)</text>
<line x1="152.90" y1="608.50" x2="288.80" y2="608.50" stroke="#000" stroke-width="0.9"/>
<text x="109.50" y="618.76" font-size="9.1" fill="#000" stroke="#000" font-weight="normal" textLength="40.80" lengthAdjust="spacingAndGlyphs">TP53 status</text>
<text x="156.00" y="618.76" font-size="9.1" fill="#000" stroke="#000" font-weight="normal" textLength="19.70" lengthAdjust="spacingAndGlyphs">Intact</text>
<text x="183.00" y="618.76" font-size="9.1" fill="#000" stroke="#000" font-weight="normal" textLength="13.30" lengthAdjust="spacingAndGlyphs">Null</text>
<text x="201.00" y="618.76" font-size="9.1" fill="#000" stroke="#000" font-weight="normal" textLength="30.10" lengthAdjust="spacingAndGlyphs">Mutated</text>
<text x="234.90" y="618.76" font-size="9.1" fill="#000" stroke="#000" font-weight="normal" textLength="30.70" lengthAdjust="spacingAndGlyphs">Mutated</text>
<text x="269.40" y="618.76" font-size="9.1" fill="#000" stroke="#000" font-weight="normal" textLength="14.60" lengthAdjust="spacingAndGlyphs">Null</text>
<text x="111.60" y="630.36" font-size="9.1" fill="#000" stroke="#000" font-weight="normal" textLength="38.70" lengthAdjust="spacingAndGlyphs">Palbociclib</text>
<text x="160.70" y="630.36" font-size="9.1" fill="#000" stroke="#000" text-anchor="middle" font-weight="normal">–</text>
<text x="174.14" y="630.36" font-size="9.1" fill="#000" stroke="#000" text-anchor="middle" font-weight="normal">+</text>
<text x="187.58" y="630.36" font-size="9.1" fill="#000" stroke="#000" text-anchor="middle" font-weight="normal">–</text>
<text x="201.02" y="630.36" font-size="9.1" fill="#000" stroke="#000" text-anchor="middle" font-weight="normal">+</text>
<text x="214.46" y="630.36" font-size="9.1" fill="#000" stroke="#000" text-anchor="middle" font-weight="normal">–</text>
<text x="227.90" y="630.36" font-size="9.1" fill="#000" stroke="#000" text-anchor="middle" font-weight="normal">+</text>
<text x="241.34" y="630.36" font-size="9.1" fill="#000" stroke="#000" text-anchor="middle" font-weight="normal">–</text>
<text x="254.78" y="630.36" font-size="9.1" fill="#000" stroke="#000" text-anchor="middle" font-weight="normal">+</text>
<text x="268.22" y="630.36" font-size="9.1" fill="#000" stroke="#000" text-anchor="middle" font-weight="normal">–</text>
<text x="281.66" y="630.36" font-size="9.1" fill="#000" stroke="#000" text-anchor="middle" font-weight="normal">+</text>
<text x="150.80" y="648.36" font-size="9.1" fill="#000" stroke="#000" text-anchor="end" textLength="12.50" lengthAdjust="spacingAndGlyphs">p21</text>
<text x="150.80" y="666.96" font-size="9.1" fill="#000" stroke="#000" text-anchor="end" textLength="12.50" lengthAdjust="spacingAndGlyphs">p27</text>
<text x="122.80" y="686.46" font-size="9.1" fill="#000" stroke="#000" font-weight="normal" textLength="28.00" lengthAdjust="spacingAndGlyphs">GAPDH</text>
<defs><filter id="bb" x="-50%" y="-100%" width="200%" height="300%"><feGaussianBlur stdDeviation="0.9 0.55"/></filter><filter id="bb2" x="-50%" y="-100%" width="200%" height="300%"><feGaussianBlur stdDeviation="1.8 1.6"/></filter><filter id="bb3" x="-50%" y="-50%" width="200%" height="200%"><feGaussianBlur stdDeviation="1.5 2.5"/></filter></defs>
<clipPath id="clL"><rect x="46.3" y="638.3" width="42.4" height="50"/></clipPath>
<g clip-path="url(#clL)">
<rect x="46.30" y="638.30" width="42.40" height="17.10" fill="#f4f4f4"/>
<rect x="49.00" y="639.80" width="11.00" height="14.10" fill="#e2e2e2" opacity="1.0" filter="url(#bb3)"/>
<rect x="62.50" y="639.80" width="11.00" height="14.10" fill="#e2e2e2" opacity="1.0" filter="url(#bb3)"/>
<rect x="75.70" y="639.80" width="11.00" height="14.10" fill="#e2e2e2" opacity="1.0" filter="url(#bb3)"/>
<rect x="46.30" y="657.10" width="42.40" height="13.90" fill="#f2f2f2"/>
<rect x="49.00" y="658.60" width="11.00" height="10.90" fill="#e2e2e2" opacity="1.0" filter="url(#bb3)"/>
<rect x="62.50" y="658.60" width="11.00" height="10.90" fill="#e2e2e2" opacity="1.0" filter="url(#bb3)"/>
<rect x="75.70" y="658.60" width="11.00" height="10.90" fill="#e2e2e2" opacity="1.0" filter="url(#bb3)"/>
<rect x="46.30" y="673.30" width="42.40" height="15.00" fill="#f6f6f6"/>
<rect x="49.00" y="674.80" width="11.00" height="12.00" fill="#e2e2e2" opacity="1.0" filter="url(#bb3)"/>
<rect x="62.50" y="674.80" width="11.00" height="12.00" fill="#e2e2e2" opacity="1.0" filter="url(#bb3)"/>
<rect x="75.70" y="674.80" width="11.00" height="12.00" fill="#e2e2e2" opacity="1.0" filter="url(#bb3)"/>
<rect x="49.00" y="645.30" width="11.00" height="4.00" rx="2.00" fill="#b4b4b4" opacity="1.0" filter="url(#bb2)"/>
<rect x="62.50" y="645.50" width="11.00" height="8.00" rx="4.00" fill="#9a9a9a" opacity="1.0" filter="url(#bb2)"/>
<rect x="63.00" y="645.00" width="10.00" height="3.60" rx="1.80" fill="#101010" opacity="1.0" filter="url(#bb)"/>
<rect x="75.45" y="645.25" width="11.50" height="5.50" rx="2.75" fill="#8a8a8a" opacity="1.0" filter="url(#bb2)"/>
<rect x="75.95" y="646.20" width="10.50" height="3.00" rx="1.50" fill="#2a2a2a" opacity="1.0" filter="url(#bb)"/>
<rect x="49.00" y="661.30" width="11.00" height="3.40" rx="1.70" fill="#bababa" opacity="1.0" filter="url(#bb2)"/>
<rect x="62.75" y="660.80" width="10.50" height="6.00" rx="3.00" fill="#8a8a8a" opacity="1.0" filter="url(#bb2)"/>
<rect x="63.25" y="661.50" width="9.50" height="3.00" rx="1.50" fill="#1a1a1a" opacity="1.0" filter="url(#bb)"/>
<rect x="75.70" y="661.50" width="11.00" height="5.00" rx="2.50" fill="#7c7c7c" opacity="1.0" filter="url(#bb2)"/>
<rect x="76.20" y="662.40" width="10.00" height="2.80" rx="1.40" fill="#262626" opacity="1.0" filter="url(#bb)"/>
<rect x="49.00" y="678.40" width="11.00" height="2.20" rx="1.10" fill="#7a7a7a" opacity="1.0" filter="url(#bb)"/>
<rect x="62.50" y="678.90" width="11.00" height="3.00" rx="1.50" fill="#6a6a6a" opacity="1.0" filter="url(#bb)"/>
<rect x="75.70" y="679.10" width="11.00" height="2.60" rx="1.30" fill="#7a7a7a" opacity="1.0" filter="url(#bb)"/>
</g>
<rect x="46.90" y="638.90" width="41.20" height="15.90" fill="none" stroke="#000" stroke-width="1.25"/>
<rect x="46.90" y="657.70" width="41.20" height="12.70" fill="none" stroke="#000" stroke-width="1.25"/>
<rect x="46.90" y="673.90" width="41.20" height="13.80" fill="none" stroke="#000" stroke-width="1.25"/>
<clipPath id="clM"><rect x="154.3" y="636.5" width="134.2" height="52"/></clipPath>
<g clip-path="url(#clM)">
<rect x="154.30" y="636.50" width="134.20" height="15.90" fill="#fcfcfc"/>
<rect x="154.30" y="654.80" width="134.20" height="15.60" fill="#f0f0f0"/>
<rect x="154.30" y="672.80" width="134.20" height="15.60" fill="#e2e2e2"/>
<rect x="155.70" y="656.30" width="10.00" height="12.60" fill="#e4e4e4" opacity="1.0" filter="url(#bb3)"/>
<rect x="155.70" y="674.30" width="10.00" height="12.60" fill="#d8d8d8" opacity="1.0" filter="url(#bb3)"/>
<rect x="169.14" y="656.30" width="10.00" height="12.60" fill="#e4e4e4" opacity="1.0" filter="url(#bb3)"/>
<rect x="169.14" y="674.30" width="10.00" height="12.60" fill="#d8d8d8" opacity="1.0" filter="url(#bb3)"/>
<rect x="182.58" y="656.30" width="10.00" height="12.60" fill="#e4e4e4" opacity="1.0" filter="url(#bb3)"/>
<rect x="182.58" y="674.30" width="10.00" height="12.60" fill="#d8d8d8" opacity="1.0" filter="url(#bb3)"/>
<rect x="196.02" y="656.30" width="10.00" height="12.60" fill="#e4e4e4" opacity="1.0" filter="url(#bb3)"/>
<rect x="196.02" y="674.30" width="10.00" height="12.60" fill="#d8d8d8" opacity="1.0" filter="url(#bb3)"/>
<rect x="209.46" y="656.30" width="10.00" height="12.60" fill="#e4e4e4" opacity="1.0" filter="url(#bb3)"/>
<rect x="209.46" y="674.30" width="10.00" height="12.60" fill="#d8d8d8" opacity="1.0" filter="url(#bb3)"/>
<rect x="222.90" y="656.30" width="10.00" height="12.60" fill="#e4e4e4" opacity="1.0" filter="url(#bb3)"/>
<rect x="222.90" y="674.30" width="10.00" height="12.60" fill="#d8d8d8" opacity="1.0" filter="url(#bb3)"/>
<rect x="236.34" y="656.30" width="10.00" height="12.60" fill="#e4e4e4" opacity="1.0" filter="url(#bb3)"/>
<rect x="236.34" y="674.30" width="10.00" height="12.60" fill="#d8d8d8" opacity="1.0" filter="url(#bb3)"/>
<rect x="249.78" y="656.30" width="10.00" height="12.60" fill="#e4e4e4" opacity="1.0" filter="url(#bb3)"/>
<rect x="249.78" y="674.30" width="10.00" height="12.60" fill="#d8d8d8" opacity="1.0" filter="url(#bb3)"/>
<rect x="263.22" y="656.30" width="10.00" height="12.60" fill="#e4e4e4" opacity="1.0" filter="url(#bb3)"/>
<rect x="263.22" y="674.30" width="10.00" height="12.60" fill="#d8d8d8" opacity="1.0" filter="url(#bb3)"/>
<rect x="276.66" y="656.30" width="10.00" height="12.60" fill="#e4e4e4" opacity="1.0" filter="url(#bb3)"/>
<rect x="276.66" y="674.30" width="10.00" height="12.60" fill="#d8d8d8" opacity="1.0" filter="url(#bb3)"/>
<rect x="155.45" y="642.40" width="10.50" height="4.00" rx="2.00" fill="#909090" opacity="1.0" filter="url(#bb2)"/>
<rect x="168.14" y="641.00" width="12.00" height="8.00" rx="4.00" fill="#707070" opacity="1.0" filter="url(#bb2)"/>
<rect x="168.89" y="642.50" width="10.50" height="4.20" rx="2.10" fill="#383838" opacity="1.0" filter="url(#bb)"/>
<rect x="223.40" y="641.00" width="9.00" height="7.00" rx="3.50" fill="#ececec" opacity="1.0" filter="url(#bb2)"/>
<rect x="250.28" y="641.00" width="9.00" height="7.00" rx="3.50" fill="#ececec" opacity="1.0" filter="url(#bb2)"/>
<rect x="277.16" y="641.00" width="9.00" height="7.00" rx="3.50" fill="#ececec" opacity="1.0" filter="url(#bb2)"/>
<rect x="155.70" y="660.50" width="10.00" height="2.60" rx="1.30" fill="#3a3a3a" opacity="1.0" filter="url(#bb)"/>
<rect x="169.14" y="660.50" width="10.00" height="2.60" rx="1.30" fill="#0c0c0c" opacity="1.0" filter="url(#bb)"/>
<rect x="182.58" y="660.50" width="10.00" height="2.60" rx="1.30" fill="#6a6a6a" opacity="1.0" filter="url(#bb)"/>
<rect x="196.02" y="660.50" width="10.00" height="2.60" rx="1.30" fill="#5c5c5c" opacity="1.0" filter="url(#bb)"/>
<rect x="209.46" y="660.50" width="10.00" height="2.60" rx="1.30" fill="#bcbcbc" opacity="1.0" filter="url(#bb)"/>
<rect x="222.90" y="660.50" width="10.00" height="2.60" rx="1.30" fill="#9a9a9a" opacity="1.0" filter="url(#bb)"/>
<rect x="236.34" y="660.50" width="10.00" height="2.60" rx="1.30" fill="#1e1e1e" opacity="1.0" filter="url(#bb)"/>
<rect x="249.78" y="661.10" width="10.00" height="2.60" rx="1.30" fill="#4a4a4a" opacity="1.0" filter="url(#bb)"/>
<rect x="263.22" y="661.10" width="10.00" height="2.60" rx="1.30" fill="#4a4a4a" opacity="1.0" filter="url(#bb)"/>
<rect x="276.66" y="661.10" width="10.00" height="2.60" rx="1.30" fill="#6a6a6a" opacity="1.0" filter="url(#bb)"/>
<rect x="155.45" y="679.20" width="10.50" height="3.20" rx="1.60" fill="#7a7a7a" opacity="1.0" filter="url(#bb)"/>
<rect x="168.89" y="679.20" width="10.50" height="3.20" rx="1.60" fill="#5e5e5e" opacity="1.0" filter="url(#bb)"/>
<rect x="182.33" y="679.20" width="10.50" height="3.20" rx="1.60" fill="#6e6e6e" opacity="1.0" filter="url(#bb)"/>
<rect x="195.77" y="679.20" width="10.50" height="3.20" rx="1.60" fill="#5a5a5a" opacity="1.0" filter="url(#bb)"/>
<rect x="209.21" y="679.20" width="10.50" height="3.20" rx="1.60" fill="#b0b0b0" opacity="1.0" filter="url(#bb)"/>
<rect x="222.65" y="679.20" width="10.50" height="3.20" rx="1.60" fill="#a0a0a0" opacity="1.0" filter="url(#bb)"/>
<rect x="236.09" y="679.20" width="10.50" height="3.20" rx="1.60" fill="#3e3e3e" opacity="1.0" filter="url(#bb)"/>
<rect x="249.53" y="679.20" width="10.50" height="3.20" rx="1.60" fill="#525252" opacity="1.0" filter="url(#bb)"/>
<rect x="262.97" y="679.20" width="10.50" height="3.20" rx="1.60" fill="#525252" opacity="1.0" filter="url(#bb)"/>
<rect x="276.41" y="679.20" width="10.50" height="3.20" rx="1.60" fill="#5e5e5e" opacity="1.0" filter="url(#bb)"/>
</g>
<rect x="154.90" y="637.10" width="133.00" height="14.70" fill="none" stroke="#000" stroke-width="1.25"/>
<rect x="154.90" y="655.40" width="133.00" height="14.40" fill="none" stroke="#000" stroke-width="1.25"/>
<rect x="154.90" y="673.40" width="133.00" height="14.40" fill="none" stroke="#000" stroke-width="1.25"/>
</svg></body></html>
